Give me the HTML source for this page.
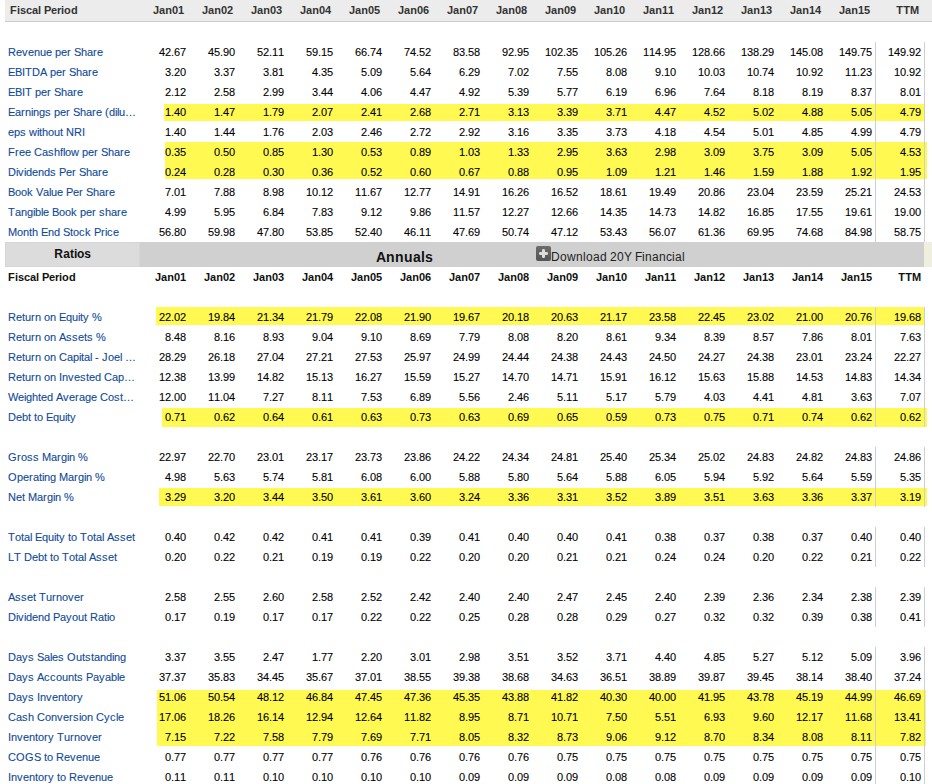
<!DOCTYPE html>
<html><head><meta charset="utf-8"><title>Financials</title>
<style>
html,body{margin:0;padding:0;background:#fff;}
body{width:932px;height:784px;position:relative;overflow:hidden;font-family:"Liberation Sans",sans-serif;font-size:11px;color:#000;}
.t{position:absolute;white-space:nowrap;line-height:20px;height:20px;}
.n{position:absolute;white-space:nowrap;line-height:20px;height:20px;text-align:right;width:60px;-webkit-text-stroke:0.1px #000;}
.b.n{-webkit-text-stroke:0;}
.l{color:#0f4a98;-webkit-text-stroke:0.1px #0f4a98;}
.b{font-weight:bold;color:#333;}
.r{position:absolute;}
i{display:inline-block;font-style:normal;overflow:visible;}
</style></head><body>

<div class="r" style="left:5px;top:0;width:927px;height:21px;background:#ececec"></div>
<div class="r" style="left:5px;top:21px;width:927px;height:1px;background:#cbcbcb"></div>
<div class="t b" style="left:10px;top:0"><i style="width:7px">F</i><i style="width:3px">i</i><i style="width:6px">s</i><i style="width:6px">c</i><i style="width:6px">a</i><i style="width:3px">l</i><i style="width:3px">&nbsp;</i><i style="width:7px">P</i><i style="width:6px">e</i><i style="width:4px">r</i><i style="width:3px">i</i><i style="width:7px">o</i><i style="width:7px">d</i></div>
<div class="n b" style="left:124px;top:0"><i style="width:6px">J</i><i style="width:6px">a</i><i style="width:7px">n</i><i style="width:6px">0</i><i style="width:6px">1</i></div>
<div class="n b" style="left:173px;top:0"><i style="width:6px">J</i><i style="width:6px">a</i><i style="width:7px">n</i><i style="width:6px">0</i><i style="width:6px">2</i></div>
<div class="n b" style="left:222px;top:0"><i style="width:6px">J</i><i style="width:6px">a</i><i style="width:7px">n</i><i style="width:6px">0</i><i style="width:6px">3</i></div>
<div class="n b" style="left:271px;top:0"><i style="width:6px">J</i><i style="width:6px">a</i><i style="width:7px">n</i><i style="width:6px">0</i><i style="width:6px">4</i></div>
<div class="n b" style="left:320px;top:0"><i style="width:6px">J</i><i style="width:6px">a</i><i style="width:7px">n</i><i style="width:6px">0</i><i style="width:6px">5</i></div>
<div class="n b" style="left:369px;top:0"><i style="width:6px">J</i><i style="width:6px">a</i><i style="width:7px">n</i><i style="width:6px">0</i><i style="width:6px">6</i></div>
<div class="n b" style="left:418px;top:0"><i style="width:6px">J</i><i style="width:6px">a</i><i style="width:7px">n</i><i style="width:6px">0</i><i style="width:6px">7</i></div>
<div class="n b" style="left:467px;top:0"><i style="width:6px">J</i><i style="width:6px">a</i><i style="width:7px">n</i><i style="width:6px">0</i><i style="width:6px">8</i></div>
<div class="n b" style="left:516px;top:0"><i style="width:6px">J</i><i style="width:6px">a</i><i style="width:7px">n</i><i style="width:6px">0</i><i style="width:6px">9</i></div>
<div class="n b" style="left:565px;top:0"><i style="width:6px">J</i><i style="width:6px">a</i><i style="width:7px">n</i><i style="width:6px">1</i><i style="width:6px">0</i></div>
<div class="n b" style="left:614px;top:0"><i style="width:6px">J</i><i style="width:6px">a</i><i style="width:7px">n</i><i style="width:6px">1</i><i style="width:6px">1</i></div>
<div class="n b" style="left:663px;top:0"><i style="width:6px">J</i><i style="width:6px">a</i><i style="width:7px">n</i><i style="width:6px">1</i><i style="width:6px">2</i></div>
<div class="n b" style="left:712px;top:0"><i style="width:6px">J</i><i style="width:6px">a</i><i style="width:7px">n</i><i style="width:6px">1</i><i style="width:6px">3</i></div>
<div class="n b" style="left:761px;top:0"><i style="width:6px">J</i><i style="width:6px">a</i><i style="width:7px">n</i><i style="width:6px">1</i><i style="width:6px">4</i></div>
<div class="n b" style="left:810px;top:0"><i style="width:6px">J</i><i style="width:6px">a</i><i style="width:7px">n</i><i style="width:6px">1</i><i style="width:6px">5</i></div>
<div class="n b" style="left:859px;top:0"><i style="width:7px">T</i><i style="width:7px">T</i><i style="width:9px">M</i></div>
<div class="r" style="left:164px;top:104px;width:760px;height:17px;background:#fff952"></div>
<div class="r" style="left:165px;top:142px;width:762px;height:37px;background:#fff952"></div>
<div class="r" style="left:156px;top:307px;width:769px;height:18px;background:#fff952"></div>
<div class="r" style="left:162px;top:408px;width:765px;height:19px;background:#fff952"></div>
<div class="r" style="left:159px;top:488px;width:768px;height:18px;background:#fff952"></div>
<div class="r" style="left:157px;top:690px;width:769px;height:56px;background:#fff952"></div>
<div class="r" style="left:875px;top:42px;width:1px;height:200px;background:#cfcfcf"></div>
<div class="r" style="left:924px;top:42px;width:1px;height:200px;background:#cfcfcf"></div>
<div class="r" style="left:875px;top:307px;width:1px;height:120px;background:#cfcfcf"></div>
<div class="r" style="left:924px;top:307px;width:1px;height:120px;background:#cfcfcf"></div>
<div class="r" style="left:875px;top:447px;width:1px;height:60px;background:#cfcfcf"></div>
<div class="r" style="left:924px;top:447px;width:1px;height:60px;background:#cfcfcf"></div>
<div class="r" style="left:875px;top:527px;width:1px;height:40px;background:#cfcfcf"></div>
<div class="r" style="left:924px;top:527px;width:1px;height:40px;background:#cfcfcf"></div>
<div class="r" style="left:875px;top:587px;width:1px;height:40px;background:#cfcfcf"></div>
<div class="r" style="left:924px;top:587px;width:1px;height:40px;background:#cfcfcf"></div>
<div class="r" style="left:875px;top:647px;width:1px;height:137px;background:#cfcfcf"></div>
<div class="r" style="left:924px;top:647px;width:1px;height:137px;background:#cfcfcf"></div>
<div class="t l" style="left:8px;top:42px"><i style="width:8px">R</i><i style="width:6px">e</i><i style="width:6px">v</i><i style="width:6px">e</i><i style="width:6px">n</i><i style="width:6px">u</i><i style="width:6px">e</i><i style="width:3px">&nbsp;</i><i style="width:6px">p</i><i style="width:6px">e</i><i style="width:4px">r</i><i style="width:3px">&nbsp;</i><i style="width:7px">S</i><i style="width:6px">h</i><i style="width:6px">a</i><i style="width:4px">r</i><i style="width:6px">e</i></div>
<div class="n" style="left:126px;top:42px"><i style="width:6px">4</i><i style="width:6px">2</i><i style="width:3px">.</i><i style="width:6px">6</i><i style="width:6px">7</i></div>
<div class="n" style="left:175px;top:42px"><i style="width:6px">4</i><i style="width:6px">5</i><i style="width:3px">.</i><i style="width:6px">9</i><i style="width:6px">0</i></div>
<div class="n" style="left:224px;top:42px"><i style="width:6px">5</i><i style="width:6px">2</i><i style="width:3px">.</i><i style="width:6px">1</i><i style="width:6px">1</i></div>
<div class="n" style="left:273px;top:42px"><i style="width:6px">5</i><i style="width:6px">9</i><i style="width:3px">.</i><i style="width:6px">1</i><i style="width:6px">5</i></div>
<div class="n" style="left:322px;top:42px"><i style="width:6px">6</i><i style="width:6px">6</i><i style="width:3px">.</i><i style="width:6px">7</i><i style="width:6px">4</i></div>
<div class="n" style="left:371px;top:42px"><i style="width:6px">7</i><i style="width:6px">4</i><i style="width:3px">.</i><i style="width:6px">5</i><i style="width:6px">2</i></div>
<div class="n" style="left:420px;top:42px"><i style="width:6px">8</i><i style="width:6px">3</i><i style="width:3px">.</i><i style="width:6px">5</i><i style="width:6px">8</i></div>
<div class="n" style="left:469px;top:42px"><i style="width:6px">9</i><i style="width:6px">2</i><i style="width:3px">.</i><i style="width:6px">9</i><i style="width:6px">5</i></div>
<div class="n" style="left:518px;top:42px"><i style="width:6px">1</i><i style="width:6px">0</i><i style="width:6px">2</i><i style="width:3px">.</i><i style="width:6px">3</i><i style="width:6px">5</i></div>
<div class="n" style="left:567px;top:42px"><i style="width:6px">1</i><i style="width:6px">0</i><i style="width:6px">5</i><i style="width:3px">.</i><i style="width:6px">2</i><i style="width:6px">6</i></div>
<div class="n" style="left:616px;top:42px"><i style="width:6px">1</i><i style="width:6px">1</i><i style="width:6px">4</i><i style="width:3px">.</i><i style="width:6px">9</i><i style="width:6px">5</i></div>
<div class="n" style="left:665px;top:42px"><i style="width:6px">1</i><i style="width:6px">2</i><i style="width:6px">8</i><i style="width:3px">.</i><i style="width:6px">6</i><i style="width:6px">6</i></div>
<div class="n" style="left:714px;top:42px"><i style="width:6px">1</i><i style="width:6px">3</i><i style="width:6px">8</i><i style="width:3px">.</i><i style="width:6px">2</i><i style="width:6px">9</i></div>
<div class="n" style="left:763px;top:42px"><i style="width:6px">1</i><i style="width:6px">4</i><i style="width:6px">5</i><i style="width:3px">.</i><i style="width:6px">0</i><i style="width:6px">8</i></div>
<div class="n" style="left:812px;top:42px"><i style="width:6px">1</i><i style="width:6px">4</i><i style="width:6px">9</i><i style="width:3px">.</i><i style="width:6px">7</i><i style="width:6px">5</i></div>
<div class="n" style="left:861px;top:42px"><i style="width:6px">1</i><i style="width:6px">4</i><i style="width:6px">9</i><i style="width:3px">.</i><i style="width:6px">9</i><i style="width:6px">2</i></div>
<div class="t l" style="left:8px;top:62px"><i style="width:7px">E</i><i style="width:7px">B</i><i style="width:3px">I</i><i style="width:7px">T</i><i style="width:8px">D</i><i style="width:7px">A</i><i style="width:3px">&nbsp;</i><i style="width:6px">p</i><i style="width:6px">e</i><i style="width:4px">r</i><i style="width:3px">&nbsp;</i><i style="width:7px">S</i><i style="width:6px">h</i><i style="width:6px">a</i><i style="width:4px">r</i><i style="width:6px">e</i></div>
<div class="n" style="left:126px;top:62px"><i style="width:6px">3</i><i style="width:3px">.</i><i style="width:6px">2</i><i style="width:6px">0</i></div>
<div class="n" style="left:175px;top:62px"><i style="width:6px">3</i><i style="width:3px">.</i><i style="width:6px">3</i><i style="width:6px">7</i></div>
<div class="n" style="left:224px;top:62px"><i style="width:6px">3</i><i style="width:3px">.</i><i style="width:6px">8</i><i style="width:6px">1</i></div>
<div class="n" style="left:273px;top:62px"><i style="width:6px">4</i><i style="width:3px">.</i><i style="width:6px">3</i><i style="width:6px">5</i></div>
<div class="n" style="left:322px;top:62px"><i style="width:6px">5</i><i style="width:3px">.</i><i style="width:6px">0</i><i style="width:6px">9</i></div>
<div class="n" style="left:371px;top:62px"><i style="width:6px">5</i><i style="width:3px">.</i><i style="width:6px">6</i><i style="width:6px">4</i></div>
<div class="n" style="left:420px;top:62px"><i style="width:6px">6</i><i style="width:3px">.</i><i style="width:6px">2</i><i style="width:6px">9</i></div>
<div class="n" style="left:469px;top:62px"><i style="width:6px">7</i><i style="width:3px">.</i><i style="width:6px">0</i><i style="width:6px">2</i></div>
<div class="n" style="left:518px;top:62px"><i style="width:6px">7</i><i style="width:3px">.</i><i style="width:6px">5</i><i style="width:6px">5</i></div>
<div class="n" style="left:567px;top:62px"><i style="width:6px">8</i><i style="width:3px">.</i><i style="width:6px">0</i><i style="width:6px">8</i></div>
<div class="n" style="left:616px;top:62px"><i style="width:6px">9</i><i style="width:3px">.</i><i style="width:6px">1</i><i style="width:6px">0</i></div>
<div class="n" style="left:665px;top:62px"><i style="width:6px">1</i><i style="width:6px">0</i><i style="width:3px">.</i><i style="width:6px">0</i><i style="width:6px">3</i></div>
<div class="n" style="left:714px;top:62px"><i style="width:6px">1</i><i style="width:6px">0</i><i style="width:3px">.</i><i style="width:6px">7</i><i style="width:6px">4</i></div>
<div class="n" style="left:763px;top:62px"><i style="width:6px">1</i><i style="width:6px">0</i><i style="width:3px">.</i><i style="width:6px">9</i><i style="width:6px">2</i></div>
<div class="n" style="left:812px;top:62px"><i style="width:6px">1</i><i style="width:6px">1</i><i style="width:3px">.</i><i style="width:6px">2</i><i style="width:6px">3</i></div>
<div class="n" style="left:861px;top:62px"><i style="width:6px">1</i><i style="width:6px">0</i><i style="width:3px">.</i><i style="width:6px">9</i><i style="width:6px">2</i></div>
<div class="t l" style="left:8px;top:82px"><i style="width:7px">E</i><i style="width:7px">B</i><i style="width:3px">I</i><i style="width:7px">T</i><i style="width:3px">&nbsp;</i><i style="width:6px">p</i><i style="width:6px">e</i><i style="width:4px">r</i><i style="width:3px">&nbsp;</i><i style="width:7px">S</i><i style="width:6px">h</i><i style="width:6px">a</i><i style="width:4px">r</i><i style="width:6px">e</i></div>
<div class="n" style="left:126px;top:82px"><i style="width:6px">2</i><i style="width:3px">.</i><i style="width:6px">1</i><i style="width:6px">2</i></div>
<div class="n" style="left:175px;top:82px"><i style="width:6px">2</i><i style="width:3px">.</i><i style="width:6px">5</i><i style="width:6px">8</i></div>
<div class="n" style="left:224px;top:82px"><i style="width:6px">2</i><i style="width:3px">.</i><i style="width:6px">9</i><i style="width:6px">9</i></div>
<div class="n" style="left:273px;top:82px"><i style="width:6px">3</i><i style="width:3px">.</i><i style="width:6px">4</i><i style="width:6px">4</i></div>
<div class="n" style="left:322px;top:82px"><i style="width:6px">4</i><i style="width:3px">.</i><i style="width:6px">0</i><i style="width:6px">6</i></div>
<div class="n" style="left:371px;top:82px"><i style="width:6px">4</i><i style="width:3px">.</i><i style="width:6px">4</i><i style="width:6px">7</i></div>
<div class="n" style="left:420px;top:82px"><i style="width:6px">4</i><i style="width:3px">.</i><i style="width:6px">9</i><i style="width:6px">2</i></div>
<div class="n" style="left:469px;top:82px"><i style="width:6px">5</i><i style="width:3px">.</i><i style="width:6px">3</i><i style="width:6px">9</i></div>
<div class="n" style="left:518px;top:82px"><i style="width:6px">5</i><i style="width:3px">.</i><i style="width:6px">7</i><i style="width:6px">7</i></div>
<div class="n" style="left:567px;top:82px"><i style="width:6px">6</i><i style="width:3px">.</i><i style="width:6px">1</i><i style="width:6px">9</i></div>
<div class="n" style="left:616px;top:82px"><i style="width:6px">6</i><i style="width:3px">.</i><i style="width:6px">9</i><i style="width:6px">6</i></div>
<div class="n" style="left:665px;top:82px"><i style="width:6px">7</i><i style="width:3px">.</i><i style="width:6px">6</i><i style="width:6px">4</i></div>
<div class="n" style="left:714px;top:82px"><i style="width:6px">8</i><i style="width:3px">.</i><i style="width:6px">1</i><i style="width:6px">8</i></div>
<div class="n" style="left:763px;top:82px"><i style="width:6px">8</i><i style="width:3px">.</i><i style="width:6px">1</i><i style="width:6px">9</i></div>
<div class="n" style="left:812px;top:82px"><i style="width:6px">8</i><i style="width:3px">.</i><i style="width:6px">3</i><i style="width:6px">7</i></div>
<div class="n" style="left:861px;top:82px"><i style="width:6px">8</i><i style="width:3px">.</i><i style="width:6px">0</i><i style="width:6px">1</i></div>
<div class="t l" style="left:8px;top:102px"><i style="width:7px">E</i><i style="width:6px">a</i><i style="width:4px">r</i><i style="width:6px">n</i><i style="width:2px">i</i><i style="width:6px">n</i><i style="width:6px">g</i><i style="width:6px">s</i><i style="width:3px">&nbsp;</i><i style="width:6px">p</i><i style="width:6px">e</i><i style="width:4px">r</i><i style="width:3px">&nbsp;</i><i style="width:7px">S</i><i style="width:6px">h</i><i style="width:6px">a</i><i style="width:4px">r</i><i style="width:6px">e</i><i style="width:3px">&nbsp;</i><i style="width:4px">(</i><i style="width:6px">d</i><i style="width:2px">i</i><i style="width:2px">l</i><i style="width:6px">u</i><i style="width:11px">…</i></div>
<div class="n" style="left:126px;top:102px"><i style="width:6px">1</i><i style="width:3px">.</i><i style="width:6px">4</i><i style="width:6px">0</i></div>
<div class="n" style="left:175px;top:102px"><i style="width:6px">1</i><i style="width:3px">.</i><i style="width:6px">4</i><i style="width:6px">7</i></div>
<div class="n" style="left:224px;top:102px"><i style="width:6px">1</i><i style="width:3px">.</i><i style="width:6px">7</i><i style="width:6px">9</i></div>
<div class="n" style="left:273px;top:102px"><i style="width:6px">2</i><i style="width:3px">.</i><i style="width:6px">0</i><i style="width:6px">7</i></div>
<div class="n" style="left:322px;top:102px"><i style="width:6px">2</i><i style="width:3px">.</i><i style="width:6px">4</i><i style="width:6px">1</i></div>
<div class="n" style="left:371px;top:102px"><i style="width:6px">2</i><i style="width:3px">.</i><i style="width:6px">6</i><i style="width:6px">8</i></div>
<div class="n" style="left:420px;top:102px"><i style="width:6px">2</i><i style="width:3px">.</i><i style="width:6px">7</i><i style="width:6px">1</i></div>
<div class="n" style="left:469px;top:102px"><i style="width:6px">3</i><i style="width:3px">.</i><i style="width:6px">1</i><i style="width:6px">3</i></div>
<div class="n" style="left:518px;top:102px"><i style="width:6px">3</i><i style="width:3px">.</i><i style="width:6px">3</i><i style="width:6px">9</i></div>
<div class="n" style="left:567px;top:102px"><i style="width:6px">3</i><i style="width:3px">.</i><i style="width:6px">7</i><i style="width:6px">1</i></div>
<div class="n" style="left:616px;top:102px"><i style="width:6px">4</i><i style="width:3px">.</i><i style="width:6px">4</i><i style="width:6px">7</i></div>
<div class="n" style="left:665px;top:102px"><i style="width:6px">4</i><i style="width:3px">.</i><i style="width:6px">5</i><i style="width:6px">2</i></div>
<div class="n" style="left:714px;top:102px"><i style="width:6px">5</i><i style="width:3px">.</i><i style="width:6px">0</i><i style="width:6px">2</i></div>
<div class="n" style="left:763px;top:102px"><i style="width:6px">4</i><i style="width:3px">.</i><i style="width:6px">8</i><i style="width:6px">8</i></div>
<div class="n" style="left:812px;top:102px"><i style="width:6px">5</i><i style="width:3px">.</i><i style="width:6px">0</i><i style="width:6px">5</i></div>
<div class="n" style="left:861px;top:102px"><i style="width:6px">4</i><i style="width:3px">.</i><i style="width:6px">7</i><i style="width:6px">9</i></div>
<div class="t l" style="left:8px;top:122px"><i style="width:6px">e</i><i style="width:6px">p</i><i style="width:6px">s</i><i style="width:3px">&nbsp;</i><i style="width:8px">w</i><i style="width:2px">i</i><i style="width:3px">t</i><i style="width:6px">h</i><i style="width:6px">o</i><i style="width:6px">u</i><i style="width:3px">t</i><i style="width:3px">&nbsp;</i><i style="width:8px">N</i><i style="width:8px">R</i><i style="width:3px">I</i></div>
<div class="n" style="left:126px;top:122px"><i style="width:6px">1</i><i style="width:3px">.</i><i style="width:6px">4</i><i style="width:6px">0</i></div>
<div class="n" style="left:175px;top:122px"><i style="width:6px">1</i><i style="width:3px">.</i><i style="width:6px">4</i><i style="width:6px">4</i></div>
<div class="n" style="left:224px;top:122px"><i style="width:6px">1</i><i style="width:3px">.</i><i style="width:6px">7</i><i style="width:6px">6</i></div>
<div class="n" style="left:273px;top:122px"><i style="width:6px">2</i><i style="width:3px">.</i><i style="width:6px">0</i><i style="width:6px">3</i></div>
<div class="n" style="left:322px;top:122px"><i style="width:6px">2</i><i style="width:3px">.</i><i style="width:6px">4</i><i style="width:6px">6</i></div>
<div class="n" style="left:371px;top:122px"><i style="width:6px">2</i><i style="width:3px">.</i><i style="width:6px">7</i><i style="width:6px">2</i></div>
<div class="n" style="left:420px;top:122px"><i style="width:6px">2</i><i style="width:3px">.</i><i style="width:6px">9</i><i style="width:6px">2</i></div>
<div class="n" style="left:469px;top:122px"><i style="width:6px">3</i><i style="width:3px">.</i><i style="width:6px">1</i><i style="width:6px">6</i></div>
<div class="n" style="left:518px;top:122px"><i style="width:6px">3</i><i style="width:3px">.</i><i style="width:6px">3</i><i style="width:6px">5</i></div>
<div class="n" style="left:567px;top:122px"><i style="width:6px">3</i><i style="width:3px">.</i><i style="width:6px">7</i><i style="width:6px">3</i></div>
<div class="n" style="left:616px;top:122px"><i style="width:6px">4</i><i style="width:3px">.</i><i style="width:6px">1</i><i style="width:6px">8</i></div>
<div class="n" style="left:665px;top:122px"><i style="width:6px">4</i><i style="width:3px">.</i><i style="width:6px">5</i><i style="width:6px">4</i></div>
<div class="n" style="left:714px;top:122px"><i style="width:6px">5</i><i style="width:3px">.</i><i style="width:6px">0</i><i style="width:6px">1</i></div>
<div class="n" style="left:763px;top:122px"><i style="width:6px">4</i><i style="width:3px">.</i><i style="width:6px">8</i><i style="width:6px">5</i></div>
<div class="n" style="left:812px;top:122px"><i style="width:6px">4</i><i style="width:3px">.</i><i style="width:6px">9</i><i style="width:6px">9</i></div>
<div class="n" style="left:861px;top:122px"><i style="width:6px">4</i><i style="width:3px">.</i><i style="width:6px">7</i><i style="width:6px">9</i></div>
<div class="t l" style="left:8px;top:142px"><i style="width:7px">F</i><i style="width:4px">r</i><i style="width:6px">e</i><i style="width:6px">e</i><i style="width:3px">&nbsp;</i><i style="width:8px">C</i><i style="width:6px">a</i><i style="width:6px">s</i><i style="width:6px">h</i><i style="width:3px">f</i><i style="width:2px">l</i><i style="width:6px">o</i><i style="width:8px">w</i><i style="width:3px">&nbsp;</i><i style="width:6px">p</i><i style="width:6px">e</i><i style="width:4px">r</i><i style="width:3px">&nbsp;</i><i style="width:7px">S</i><i style="width:6px">h</i><i style="width:6px">a</i><i style="width:4px">r</i><i style="width:6px">e</i></div>
<div class="n" style="left:126px;top:142px"><i style="width:6px">0</i><i style="width:3px">.</i><i style="width:6px">3</i><i style="width:6px">5</i></div>
<div class="n" style="left:175px;top:142px"><i style="width:6px">0</i><i style="width:3px">.</i><i style="width:6px">5</i><i style="width:6px">0</i></div>
<div class="n" style="left:224px;top:142px"><i style="width:6px">0</i><i style="width:3px">.</i><i style="width:6px">8</i><i style="width:6px">5</i></div>
<div class="n" style="left:273px;top:142px"><i style="width:6px">1</i><i style="width:3px">.</i><i style="width:6px">3</i><i style="width:6px">0</i></div>
<div class="n" style="left:322px;top:142px"><i style="width:6px">0</i><i style="width:3px">.</i><i style="width:6px">5</i><i style="width:6px">3</i></div>
<div class="n" style="left:371px;top:142px"><i style="width:6px">0</i><i style="width:3px">.</i><i style="width:6px">8</i><i style="width:6px">9</i></div>
<div class="n" style="left:420px;top:142px"><i style="width:6px">1</i><i style="width:3px">.</i><i style="width:6px">0</i><i style="width:6px">3</i></div>
<div class="n" style="left:469px;top:142px"><i style="width:6px">1</i><i style="width:3px">.</i><i style="width:6px">3</i><i style="width:6px">3</i></div>
<div class="n" style="left:518px;top:142px"><i style="width:6px">2</i><i style="width:3px">.</i><i style="width:6px">9</i><i style="width:6px">5</i></div>
<div class="n" style="left:567px;top:142px"><i style="width:6px">3</i><i style="width:3px">.</i><i style="width:6px">6</i><i style="width:6px">3</i></div>
<div class="n" style="left:616px;top:142px"><i style="width:6px">2</i><i style="width:3px">.</i><i style="width:6px">9</i><i style="width:6px">8</i></div>
<div class="n" style="left:665px;top:142px"><i style="width:6px">3</i><i style="width:3px">.</i><i style="width:6px">0</i><i style="width:6px">9</i></div>
<div class="n" style="left:714px;top:142px"><i style="width:6px">3</i><i style="width:3px">.</i><i style="width:6px">7</i><i style="width:6px">5</i></div>
<div class="n" style="left:763px;top:142px"><i style="width:6px">3</i><i style="width:3px">.</i><i style="width:6px">0</i><i style="width:6px">9</i></div>
<div class="n" style="left:812px;top:142px"><i style="width:6px">5</i><i style="width:3px">.</i><i style="width:6px">0</i><i style="width:6px">5</i></div>
<div class="n" style="left:861px;top:142px"><i style="width:6px">4</i><i style="width:3px">.</i><i style="width:6px">5</i><i style="width:6px">3</i></div>
<div class="t l" style="left:8px;top:162px"><i style="width:8px">D</i><i style="width:2px">i</i><i style="width:6px">v</i><i style="width:2px">i</i><i style="width:6px">d</i><i style="width:6px">e</i><i style="width:6px">n</i><i style="width:6px">d</i><i style="width:6px">s</i><i style="width:3px">&nbsp;</i><i style="width:7px">P</i><i style="width:6px">e</i><i style="width:4px">r</i><i style="width:3px">&nbsp;</i><i style="width:7px">S</i><i style="width:6px">h</i><i style="width:6px">a</i><i style="width:4px">r</i><i style="width:6px">e</i></div>
<div class="n" style="left:126px;top:162px"><i style="width:6px">0</i><i style="width:3px">.</i><i style="width:6px">2</i><i style="width:6px">4</i></div>
<div class="n" style="left:175px;top:162px"><i style="width:6px">0</i><i style="width:3px">.</i><i style="width:6px">2</i><i style="width:6px">8</i></div>
<div class="n" style="left:224px;top:162px"><i style="width:6px">0</i><i style="width:3px">.</i><i style="width:6px">3</i><i style="width:6px">0</i></div>
<div class="n" style="left:273px;top:162px"><i style="width:6px">0</i><i style="width:3px">.</i><i style="width:6px">3</i><i style="width:6px">6</i></div>
<div class="n" style="left:322px;top:162px"><i style="width:6px">0</i><i style="width:3px">.</i><i style="width:6px">5</i><i style="width:6px">2</i></div>
<div class="n" style="left:371px;top:162px"><i style="width:6px">0</i><i style="width:3px">.</i><i style="width:6px">6</i><i style="width:6px">0</i></div>
<div class="n" style="left:420px;top:162px"><i style="width:6px">0</i><i style="width:3px">.</i><i style="width:6px">6</i><i style="width:6px">7</i></div>
<div class="n" style="left:469px;top:162px"><i style="width:6px">0</i><i style="width:3px">.</i><i style="width:6px">8</i><i style="width:6px">8</i></div>
<div class="n" style="left:518px;top:162px"><i style="width:6px">0</i><i style="width:3px">.</i><i style="width:6px">9</i><i style="width:6px">5</i></div>
<div class="n" style="left:567px;top:162px"><i style="width:6px">1</i><i style="width:3px">.</i><i style="width:6px">0</i><i style="width:6px">9</i></div>
<div class="n" style="left:616px;top:162px"><i style="width:6px">1</i><i style="width:3px">.</i><i style="width:6px">2</i><i style="width:6px">1</i></div>
<div class="n" style="left:665px;top:162px"><i style="width:6px">1</i><i style="width:3px">.</i><i style="width:6px">4</i><i style="width:6px">6</i></div>
<div class="n" style="left:714px;top:162px"><i style="width:6px">1</i><i style="width:3px">.</i><i style="width:6px">5</i><i style="width:6px">9</i></div>
<div class="n" style="left:763px;top:162px"><i style="width:6px">1</i><i style="width:3px">.</i><i style="width:6px">8</i><i style="width:6px">8</i></div>
<div class="n" style="left:812px;top:162px"><i style="width:6px">1</i><i style="width:3px">.</i><i style="width:6px">9</i><i style="width:6px">2</i></div>
<div class="n" style="left:861px;top:162px"><i style="width:6px">1</i><i style="width:3px">.</i><i style="width:6px">9</i><i style="width:6px">5</i></div>
<div class="t l" style="left:8px;top:182px"><i style="width:7px">B</i><i style="width:6px">o</i><i style="width:6px">o</i><i style="width:6px">k</i><i style="width:3px">&nbsp;</i><i style="width:7px">V</i><i style="width:6px">a</i><i style="width:2px">l</i><i style="width:6px">u</i><i style="width:6px">e</i><i style="width:3px">&nbsp;</i><i style="width:7px">P</i><i style="width:6px">e</i><i style="width:4px">r</i><i style="width:3px">&nbsp;</i><i style="width:7px">S</i><i style="width:6px">h</i><i style="width:6px">a</i><i style="width:4px">r</i><i style="width:6px">e</i></div>
<div class="n" style="left:126px;top:182px"><i style="width:6px">7</i><i style="width:3px">.</i><i style="width:6px">0</i><i style="width:6px">1</i></div>
<div class="n" style="left:175px;top:182px"><i style="width:6px">7</i><i style="width:3px">.</i><i style="width:6px">8</i><i style="width:6px">8</i></div>
<div class="n" style="left:224px;top:182px"><i style="width:6px">8</i><i style="width:3px">.</i><i style="width:6px">9</i><i style="width:6px">8</i></div>
<div class="n" style="left:273px;top:182px"><i style="width:6px">1</i><i style="width:6px">0</i><i style="width:3px">.</i><i style="width:6px">1</i><i style="width:6px">2</i></div>
<div class="n" style="left:322px;top:182px"><i style="width:6px">1</i><i style="width:6px">1</i><i style="width:3px">.</i><i style="width:6px">6</i><i style="width:6px">7</i></div>
<div class="n" style="left:371px;top:182px"><i style="width:6px">1</i><i style="width:6px">2</i><i style="width:3px">.</i><i style="width:6px">7</i><i style="width:6px">7</i></div>
<div class="n" style="left:420px;top:182px"><i style="width:6px">1</i><i style="width:6px">4</i><i style="width:3px">.</i><i style="width:6px">9</i><i style="width:6px">1</i></div>
<div class="n" style="left:469px;top:182px"><i style="width:6px">1</i><i style="width:6px">6</i><i style="width:3px">.</i><i style="width:6px">2</i><i style="width:6px">6</i></div>
<div class="n" style="left:518px;top:182px"><i style="width:6px">1</i><i style="width:6px">6</i><i style="width:3px">.</i><i style="width:6px">5</i><i style="width:6px">2</i></div>
<div class="n" style="left:567px;top:182px"><i style="width:6px">1</i><i style="width:6px">8</i><i style="width:3px">.</i><i style="width:6px">6</i><i style="width:6px">1</i></div>
<div class="n" style="left:616px;top:182px"><i style="width:6px">1</i><i style="width:6px">9</i><i style="width:3px">.</i><i style="width:6px">4</i><i style="width:6px">9</i></div>
<div class="n" style="left:665px;top:182px"><i style="width:6px">2</i><i style="width:6px">0</i><i style="width:3px">.</i><i style="width:6px">8</i><i style="width:6px">6</i></div>
<div class="n" style="left:714px;top:182px"><i style="width:6px">2</i><i style="width:6px">3</i><i style="width:3px">.</i><i style="width:6px">0</i><i style="width:6px">4</i></div>
<div class="n" style="left:763px;top:182px"><i style="width:6px">2</i><i style="width:6px">3</i><i style="width:3px">.</i><i style="width:6px">5</i><i style="width:6px">9</i></div>
<div class="n" style="left:812px;top:182px"><i style="width:6px">2</i><i style="width:6px">5</i><i style="width:3px">.</i><i style="width:6px">2</i><i style="width:6px">1</i></div>
<div class="n" style="left:861px;top:182px"><i style="width:6px">2</i><i style="width:6px">4</i><i style="width:3px">.</i><i style="width:6px">5</i><i style="width:6px">3</i></div>
<div class="t l" style="left:8px;top:202px"><i style="width:7px">T</i><i style="width:6px">a</i><i style="width:6px">n</i><i style="width:6px">g</i><i style="width:2px">i</i><i style="width:6px">b</i><i style="width:2px">l</i><i style="width:6px">e</i><i style="width:3px">&nbsp;</i><i style="width:7px">B</i><i style="width:6px">o</i><i style="width:6px">o</i><i style="width:6px">k</i><i style="width:3px">&nbsp;</i><i style="width:6px">p</i><i style="width:6px">e</i><i style="width:4px">r</i><i style="width:3px">&nbsp;</i><i style="width:6px">s</i><i style="width:6px">h</i><i style="width:6px">a</i><i style="width:4px">r</i><i style="width:6px">e</i></div>
<div class="n" style="left:126px;top:202px"><i style="width:6px">4</i><i style="width:3px">.</i><i style="width:6px">9</i><i style="width:6px">9</i></div>
<div class="n" style="left:175px;top:202px"><i style="width:6px">5</i><i style="width:3px">.</i><i style="width:6px">9</i><i style="width:6px">5</i></div>
<div class="n" style="left:224px;top:202px"><i style="width:6px">6</i><i style="width:3px">.</i><i style="width:6px">8</i><i style="width:6px">4</i></div>
<div class="n" style="left:273px;top:202px"><i style="width:6px">7</i><i style="width:3px">.</i><i style="width:6px">8</i><i style="width:6px">3</i></div>
<div class="n" style="left:322px;top:202px"><i style="width:6px">9</i><i style="width:3px">.</i><i style="width:6px">1</i><i style="width:6px">2</i></div>
<div class="n" style="left:371px;top:202px"><i style="width:6px">9</i><i style="width:3px">.</i><i style="width:6px">8</i><i style="width:6px">6</i></div>
<div class="n" style="left:420px;top:202px"><i style="width:6px">1</i><i style="width:6px">1</i><i style="width:3px">.</i><i style="width:6px">5</i><i style="width:6px">7</i></div>
<div class="n" style="left:469px;top:202px"><i style="width:6px">1</i><i style="width:6px">2</i><i style="width:3px">.</i><i style="width:6px">2</i><i style="width:6px">7</i></div>
<div class="n" style="left:518px;top:202px"><i style="width:6px">1</i><i style="width:6px">2</i><i style="width:3px">.</i><i style="width:6px">6</i><i style="width:6px">6</i></div>
<div class="n" style="left:567px;top:202px"><i style="width:6px">1</i><i style="width:6px">4</i><i style="width:3px">.</i><i style="width:6px">3</i><i style="width:6px">5</i></div>
<div class="n" style="left:616px;top:202px"><i style="width:6px">1</i><i style="width:6px">4</i><i style="width:3px">.</i><i style="width:6px">7</i><i style="width:6px">3</i></div>
<div class="n" style="left:665px;top:202px"><i style="width:6px">1</i><i style="width:6px">4</i><i style="width:3px">.</i><i style="width:6px">8</i><i style="width:6px">2</i></div>
<div class="n" style="left:714px;top:202px"><i style="width:6px">1</i><i style="width:6px">6</i><i style="width:3px">.</i><i style="width:6px">8</i><i style="width:6px">5</i></div>
<div class="n" style="left:763px;top:202px"><i style="width:6px">1</i><i style="width:6px">7</i><i style="width:3px">.</i><i style="width:6px">5</i><i style="width:6px">5</i></div>
<div class="n" style="left:812px;top:202px"><i style="width:6px">1</i><i style="width:6px">9</i><i style="width:3px">.</i><i style="width:6px">6</i><i style="width:6px">1</i></div>
<div class="n" style="left:861px;top:202px"><i style="width:6px">1</i><i style="width:6px">9</i><i style="width:3px">.</i><i style="width:6px">0</i><i style="width:6px">0</i></div>
<div class="t l" style="left:8px;top:222px"><i style="width:9px">M</i><i style="width:6px">o</i><i style="width:6px">n</i><i style="width:3px">t</i><i style="width:6px">h</i><i style="width:3px">&nbsp;</i><i style="width:7px">E</i><i style="width:6px">n</i><i style="width:6px">d</i><i style="width:3px">&nbsp;</i><i style="width:7px">S</i><i style="width:3px">t</i><i style="width:6px">o</i><i style="width:6px">c</i><i style="width:6px">k</i><i style="width:3px">&nbsp;</i><i style="width:7px">P</i><i style="width:4px">r</i><i style="width:2px">i</i><i style="width:6px">c</i><i style="width:6px">e</i></div>
<div class="n" style="left:126px;top:222px"><i style="width:6px">5</i><i style="width:6px">6</i><i style="width:3px">.</i><i style="width:6px">8</i><i style="width:6px">0</i></div>
<div class="n" style="left:175px;top:222px"><i style="width:6px">5</i><i style="width:6px">9</i><i style="width:3px">.</i><i style="width:6px">9</i><i style="width:6px">8</i></div>
<div class="n" style="left:224px;top:222px"><i style="width:6px">4</i><i style="width:6px">7</i><i style="width:3px">.</i><i style="width:6px">8</i><i style="width:6px">0</i></div>
<div class="n" style="left:273px;top:222px"><i style="width:6px">5</i><i style="width:6px">3</i><i style="width:3px">.</i><i style="width:6px">8</i><i style="width:6px">5</i></div>
<div class="n" style="left:322px;top:222px"><i style="width:6px">5</i><i style="width:6px">2</i><i style="width:3px">.</i><i style="width:6px">4</i><i style="width:6px">0</i></div>
<div class="n" style="left:371px;top:222px"><i style="width:6px">4</i><i style="width:6px">6</i><i style="width:3px">.</i><i style="width:6px">1</i><i style="width:6px">1</i></div>
<div class="n" style="left:420px;top:222px"><i style="width:6px">4</i><i style="width:6px">7</i><i style="width:3px">.</i><i style="width:6px">6</i><i style="width:6px">9</i></div>
<div class="n" style="left:469px;top:222px"><i style="width:6px">5</i><i style="width:6px">0</i><i style="width:3px">.</i><i style="width:6px">7</i><i style="width:6px">4</i></div>
<div class="n" style="left:518px;top:222px"><i style="width:6px">4</i><i style="width:6px">7</i><i style="width:3px">.</i><i style="width:6px">1</i><i style="width:6px">2</i></div>
<div class="n" style="left:567px;top:222px"><i style="width:6px">5</i><i style="width:6px">3</i><i style="width:3px">.</i><i style="width:6px">4</i><i style="width:6px">3</i></div>
<div class="n" style="left:616px;top:222px"><i style="width:6px">5</i><i style="width:6px">6</i><i style="width:3px">.</i><i style="width:6px">0</i><i style="width:6px">7</i></div>
<div class="n" style="left:665px;top:222px"><i style="width:6px">6</i><i style="width:6px">1</i><i style="width:3px">.</i><i style="width:6px">3</i><i style="width:6px">6</i></div>
<div class="n" style="left:714px;top:222px"><i style="width:6px">6</i><i style="width:6px">9</i><i style="width:3px">.</i><i style="width:6px">9</i><i style="width:6px">5</i></div>
<div class="n" style="left:763px;top:222px"><i style="width:6px">7</i><i style="width:6px">4</i><i style="width:3px">.</i><i style="width:6px">6</i><i style="width:6px">8</i></div>
<div class="n" style="left:812px;top:222px"><i style="width:6px">8</i><i style="width:6px">4</i><i style="width:3px">.</i><i style="width:6px">9</i><i style="width:6px">8</i></div>
<div class="n" style="left:861px;top:222px"><i style="width:6px">5</i><i style="width:6px">8</i><i style="width:3px">.</i><i style="width:6px">7</i><i style="width:6px">5</i></div>
<div class="r" style="left:5px;top:242px;width:135px;height:25px;background:#dcdcdc;box-shadow:inset 0 0 0 1px #d6d6d6"></div>
<div class="r" style="left:140px;top:242px;width:784px;height:25px;background:#d0d0d0"></div>
<div class="r" style="left:924px;top:242px;width:8px;height:25px;background:#eeefdf"></div>
<div class="t b" style="left:5px;width:135px;text-align:center;top:244px;font-size:12px;color:#111;line-height:20px"><i style="width:9px">R</i><i style="width:7px">a</i><i style="width:4px">t</i><i style="width:3px">i</i><i style="width:7px">o</i><i style="width:7px">s</i></div>
<div class="t b" style="left:376px;top:247px;font-size:14px;color:#111;line-height:20px"><i style="width:10px">A</i><i style="width:9px">n</i><i style="width:9px">n</i><i style="width:9px">u</i><i style="width:8px">a</i><i style="width:4px">l</i><i style="width:8px">s</i></div>
<svg class="r" style="left:536px;top:246px" width="15" height="15" viewBox="0 0 15 15"><defs><linearGradient id="g" x1="0" y1="0" x2="0" y2="1"><stop offset="0" stop-color="#6c6c6c"/><stop offset="1" stop-color="#555"/></linearGradient></defs><rect x="0" y="0" width="15" height="15" rx="2" fill="url(#g)"/><rect x="3" y="6" width="9" height="3" rx="1.2" fill="#dcdcdc"/><rect x="6" y="3" width="3" height="9" rx="1.2" fill="#dcdcdc"/></svg>
<div class="t" style="left:551px;top:247px;font-size:12px;line-height:20px;color:#222"><i style="width:9px">D</i><i style="width:7px">o</i><i style="width:9px">w</i><i style="width:7px">n</i><i style="width:3px">l</i><i style="width:7px">o</i><i style="width:7px">a</i><i style="width:7px">d</i><i style="width:3px">&nbsp;</i><i style="width:7px">2</i><i style="width:7px">0</i><i style="width:8px">Y</i><i style="width:3px">&nbsp;</i><i style="width:7px">F</i><i style="width:3px">i</i><i style="width:7px">n</i><i style="width:7px">a</i><i style="width:7px">n</i><i style="width:6px">c</i><i style="width:3px">i</i><i style="width:7px">a</i><i style="width:3px">l</i></div>
<div class="t b" style="left:8px;top:267px;color:#111"><i style="width:7px">F</i><i style="width:3px">i</i><i style="width:6px">s</i><i style="width:6px">c</i><i style="width:6px">a</i><i style="width:3px">l</i><i style="width:3px">&nbsp;</i><i style="width:7px">P</i><i style="width:6px">e</i><i style="width:4px">r</i><i style="width:3px">i</i><i style="width:7px">o</i><i style="width:7px">d</i></div>
<div class="n b" style="left:126px;top:267px;color:#111"><i style="width:6px">J</i><i style="width:6px">a</i><i style="width:7px">n</i><i style="width:6px">0</i><i style="width:6px">1</i></div>
<div class="n b" style="left:175px;top:267px;color:#111"><i style="width:6px">J</i><i style="width:6px">a</i><i style="width:7px">n</i><i style="width:6px">0</i><i style="width:6px">2</i></div>
<div class="n b" style="left:224px;top:267px;color:#111"><i style="width:6px">J</i><i style="width:6px">a</i><i style="width:7px">n</i><i style="width:6px">0</i><i style="width:6px">3</i></div>
<div class="n b" style="left:273px;top:267px;color:#111"><i style="width:6px">J</i><i style="width:6px">a</i><i style="width:7px">n</i><i style="width:6px">0</i><i style="width:6px">4</i></div>
<div class="n b" style="left:322px;top:267px;color:#111"><i style="width:6px">J</i><i style="width:6px">a</i><i style="width:7px">n</i><i style="width:6px">0</i><i style="width:6px">5</i></div>
<div class="n b" style="left:371px;top:267px;color:#111"><i style="width:6px">J</i><i style="width:6px">a</i><i style="width:7px">n</i><i style="width:6px">0</i><i style="width:6px">6</i></div>
<div class="n b" style="left:420px;top:267px;color:#111"><i style="width:6px">J</i><i style="width:6px">a</i><i style="width:7px">n</i><i style="width:6px">0</i><i style="width:6px">7</i></div>
<div class="n b" style="left:469px;top:267px;color:#111"><i style="width:6px">J</i><i style="width:6px">a</i><i style="width:7px">n</i><i style="width:6px">0</i><i style="width:6px">8</i></div>
<div class="n b" style="left:518px;top:267px;color:#111"><i style="width:6px">J</i><i style="width:6px">a</i><i style="width:7px">n</i><i style="width:6px">0</i><i style="width:6px">9</i></div>
<div class="n b" style="left:567px;top:267px;color:#111"><i style="width:6px">J</i><i style="width:6px">a</i><i style="width:7px">n</i><i style="width:6px">1</i><i style="width:6px">0</i></div>
<div class="n b" style="left:616px;top:267px;color:#111"><i style="width:6px">J</i><i style="width:6px">a</i><i style="width:7px">n</i><i style="width:6px">1</i><i style="width:6px">1</i></div>
<div class="n b" style="left:665px;top:267px;color:#111"><i style="width:6px">J</i><i style="width:6px">a</i><i style="width:7px">n</i><i style="width:6px">1</i><i style="width:6px">2</i></div>
<div class="n b" style="left:714px;top:267px;color:#111"><i style="width:6px">J</i><i style="width:6px">a</i><i style="width:7px">n</i><i style="width:6px">1</i><i style="width:6px">3</i></div>
<div class="n b" style="left:763px;top:267px;color:#111"><i style="width:6px">J</i><i style="width:6px">a</i><i style="width:7px">n</i><i style="width:6px">1</i><i style="width:6px">4</i></div>
<div class="n b" style="left:812px;top:267px;color:#111"><i style="width:6px">J</i><i style="width:6px">a</i><i style="width:7px">n</i><i style="width:6px">1</i><i style="width:6px">5</i></div>
<div class="n b" style="left:861px;top:267px;color:#111"><i style="width:7px">T</i><i style="width:7px">T</i><i style="width:9px">M</i></div>
<div class="t l" style="left:8px;top:307px"><i style="width:8px">R</i><i style="width:6px">e</i><i style="width:3px">t</i><i style="width:6px">u</i><i style="width:4px">r</i><i style="width:6px">n</i><i style="width:3px">&nbsp;</i><i style="width:6px">o</i><i style="width:6px">n</i><i style="width:3px">&nbsp;</i><i style="width:7px">E</i><i style="width:6px">q</i><i style="width:6px">u</i><i style="width:2px">i</i><i style="width:3px">t</i><i style="width:6px">y</i><i style="width:3px">&nbsp;</i><i style="width:10px">%</i></div>
<div class="n" style="left:126px;top:307px"><i style="width:6px">2</i><i style="width:6px">2</i><i style="width:3px">.</i><i style="width:6px">0</i><i style="width:6px">2</i></div>
<div class="n" style="left:175px;top:307px"><i style="width:6px">1</i><i style="width:6px">9</i><i style="width:3px">.</i><i style="width:6px">8</i><i style="width:6px">4</i></div>
<div class="n" style="left:224px;top:307px"><i style="width:6px">2</i><i style="width:6px">1</i><i style="width:3px">.</i><i style="width:6px">3</i><i style="width:6px">4</i></div>
<div class="n" style="left:273px;top:307px"><i style="width:6px">2</i><i style="width:6px">1</i><i style="width:3px">.</i><i style="width:6px">7</i><i style="width:6px">9</i></div>
<div class="n" style="left:322px;top:307px"><i style="width:6px">2</i><i style="width:6px">2</i><i style="width:3px">.</i><i style="width:6px">0</i><i style="width:6px">8</i></div>
<div class="n" style="left:371px;top:307px"><i style="width:6px">2</i><i style="width:6px">1</i><i style="width:3px">.</i><i style="width:6px">9</i><i style="width:6px">0</i></div>
<div class="n" style="left:420px;top:307px"><i style="width:6px">1</i><i style="width:6px">9</i><i style="width:3px">.</i><i style="width:6px">6</i><i style="width:6px">7</i></div>
<div class="n" style="left:469px;top:307px"><i style="width:6px">2</i><i style="width:6px">0</i><i style="width:3px">.</i><i style="width:6px">1</i><i style="width:6px">8</i></div>
<div class="n" style="left:518px;top:307px"><i style="width:6px">2</i><i style="width:6px">0</i><i style="width:3px">.</i><i style="width:6px">6</i><i style="width:6px">3</i></div>
<div class="n" style="left:567px;top:307px"><i style="width:6px">2</i><i style="width:6px">1</i><i style="width:3px">.</i><i style="width:6px">1</i><i style="width:6px">7</i></div>
<div class="n" style="left:616px;top:307px"><i style="width:6px">2</i><i style="width:6px">3</i><i style="width:3px">.</i><i style="width:6px">5</i><i style="width:6px">8</i></div>
<div class="n" style="left:665px;top:307px"><i style="width:6px">2</i><i style="width:6px">2</i><i style="width:3px">.</i><i style="width:6px">4</i><i style="width:6px">5</i></div>
<div class="n" style="left:714px;top:307px"><i style="width:6px">2</i><i style="width:6px">3</i><i style="width:3px">.</i><i style="width:6px">0</i><i style="width:6px">2</i></div>
<div class="n" style="left:763px;top:307px"><i style="width:6px">2</i><i style="width:6px">1</i><i style="width:3px">.</i><i style="width:6px">0</i><i style="width:6px">0</i></div>
<div class="n" style="left:812px;top:307px"><i style="width:6px">2</i><i style="width:6px">0</i><i style="width:3px">.</i><i style="width:6px">7</i><i style="width:6px">6</i></div>
<div class="n" style="left:861px;top:307px"><i style="width:6px">1</i><i style="width:6px">9</i><i style="width:3px">.</i><i style="width:6px">6</i><i style="width:6px">8</i></div>
<div class="t l" style="left:8px;top:327px"><i style="width:8px">R</i><i style="width:6px">e</i><i style="width:3px">t</i><i style="width:6px">u</i><i style="width:4px">r</i><i style="width:6px">n</i><i style="width:3px">&nbsp;</i><i style="width:6px">o</i><i style="width:6px">n</i><i style="width:3px">&nbsp;</i><i style="width:7px">A</i><i style="width:6px">s</i><i style="width:6px">s</i><i style="width:6px">e</i><i style="width:3px">t</i><i style="width:6px">s</i><i style="width:3px">&nbsp;</i><i style="width:10px">%</i></div>
<div class="n" style="left:126px;top:327px"><i style="width:6px">8</i><i style="width:3px">.</i><i style="width:6px">4</i><i style="width:6px">8</i></div>
<div class="n" style="left:175px;top:327px"><i style="width:6px">8</i><i style="width:3px">.</i><i style="width:6px">1</i><i style="width:6px">6</i></div>
<div class="n" style="left:224px;top:327px"><i style="width:6px">8</i><i style="width:3px">.</i><i style="width:6px">9</i><i style="width:6px">3</i></div>
<div class="n" style="left:273px;top:327px"><i style="width:6px">9</i><i style="width:3px">.</i><i style="width:6px">0</i><i style="width:6px">4</i></div>
<div class="n" style="left:322px;top:327px"><i style="width:6px">9</i><i style="width:3px">.</i><i style="width:6px">1</i><i style="width:6px">0</i></div>
<div class="n" style="left:371px;top:327px"><i style="width:6px">8</i><i style="width:3px">.</i><i style="width:6px">6</i><i style="width:6px">9</i></div>
<div class="n" style="left:420px;top:327px"><i style="width:6px">7</i><i style="width:3px">.</i><i style="width:6px">7</i><i style="width:6px">9</i></div>
<div class="n" style="left:469px;top:327px"><i style="width:6px">8</i><i style="width:3px">.</i><i style="width:6px">0</i><i style="width:6px">8</i></div>
<div class="n" style="left:518px;top:327px"><i style="width:6px">8</i><i style="width:3px">.</i><i style="width:6px">2</i><i style="width:6px">0</i></div>
<div class="n" style="left:567px;top:327px"><i style="width:6px">8</i><i style="width:3px">.</i><i style="width:6px">6</i><i style="width:6px">1</i></div>
<div class="n" style="left:616px;top:327px"><i style="width:6px">9</i><i style="width:3px">.</i><i style="width:6px">3</i><i style="width:6px">4</i></div>
<div class="n" style="left:665px;top:327px"><i style="width:6px">8</i><i style="width:3px">.</i><i style="width:6px">3</i><i style="width:6px">9</i></div>
<div class="n" style="left:714px;top:327px"><i style="width:6px">8</i><i style="width:3px">.</i><i style="width:6px">5</i><i style="width:6px">7</i></div>
<div class="n" style="left:763px;top:327px"><i style="width:6px">7</i><i style="width:3px">.</i><i style="width:6px">8</i><i style="width:6px">6</i></div>
<div class="n" style="left:812px;top:327px"><i style="width:6px">8</i><i style="width:3px">.</i><i style="width:6px">0</i><i style="width:6px">1</i></div>
<div class="n" style="left:861px;top:327px"><i style="width:6px">7</i><i style="width:3px">.</i><i style="width:6px">6</i><i style="width:6px">3</i></div>
<div class="t l" style="left:8px;top:347px"><i style="width:8px">R</i><i style="width:6px">e</i><i style="width:3px">t</i><i style="width:6px">u</i><i style="width:4px">r</i><i style="width:6px">n</i><i style="width:3px">&nbsp;</i><i style="width:6px">o</i><i style="width:6px">n</i><i style="width:3px">&nbsp;</i><i style="width:8px">C</i><i style="width:6px">a</i><i style="width:6px">p</i><i style="width:2px">i</i><i style="width:3px">t</i><i style="width:6px">a</i><i style="width:2px">l</i><i style="width:3px">&nbsp;</i><i style="width:4px">-</i><i style="width:3px">&nbsp;</i><i style="width:6px">J</i><i style="width:6px">o</i><i style="width:6px">e</i><i style="width:2px">l</i><i style="width:3px">&nbsp;</i><i style="width:11px">…</i></div>
<div class="n" style="left:126px;top:347px"><i style="width:6px">2</i><i style="width:6px">8</i><i style="width:3px">.</i><i style="width:6px">2</i><i style="width:6px">9</i></div>
<div class="n" style="left:175px;top:347px"><i style="width:6px">2</i><i style="width:6px">6</i><i style="width:3px">.</i><i style="width:6px">1</i><i style="width:6px">8</i></div>
<div class="n" style="left:224px;top:347px"><i style="width:6px">2</i><i style="width:6px">7</i><i style="width:3px">.</i><i style="width:6px">0</i><i style="width:6px">4</i></div>
<div class="n" style="left:273px;top:347px"><i style="width:6px">2</i><i style="width:6px">7</i><i style="width:3px">.</i><i style="width:6px">2</i><i style="width:6px">1</i></div>
<div class="n" style="left:322px;top:347px"><i style="width:6px">2</i><i style="width:6px">7</i><i style="width:3px">.</i><i style="width:6px">5</i><i style="width:6px">3</i></div>
<div class="n" style="left:371px;top:347px"><i style="width:6px">2</i><i style="width:6px">5</i><i style="width:3px">.</i><i style="width:6px">9</i><i style="width:6px">7</i></div>
<div class="n" style="left:420px;top:347px"><i style="width:6px">2</i><i style="width:6px">4</i><i style="width:3px">.</i><i style="width:6px">9</i><i style="width:6px">9</i></div>
<div class="n" style="left:469px;top:347px"><i style="width:6px">2</i><i style="width:6px">4</i><i style="width:3px">.</i><i style="width:6px">4</i><i style="width:6px">4</i></div>
<div class="n" style="left:518px;top:347px"><i style="width:6px">2</i><i style="width:6px">4</i><i style="width:3px">.</i><i style="width:6px">3</i><i style="width:6px">8</i></div>
<div class="n" style="left:567px;top:347px"><i style="width:6px">2</i><i style="width:6px">4</i><i style="width:3px">.</i><i style="width:6px">4</i><i style="width:6px">3</i></div>
<div class="n" style="left:616px;top:347px"><i style="width:6px">2</i><i style="width:6px">4</i><i style="width:3px">.</i><i style="width:6px">5</i><i style="width:6px">0</i></div>
<div class="n" style="left:665px;top:347px"><i style="width:6px">2</i><i style="width:6px">4</i><i style="width:3px">.</i><i style="width:6px">2</i><i style="width:6px">7</i></div>
<div class="n" style="left:714px;top:347px"><i style="width:6px">2</i><i style="width:6px">4</i><i style="width:3px">.</i><i style="width:6px">3</i><i style="width:6px">8</i></div>
<div class="n" style="left:763px;top:347px"><i style="width:6px">2</i><i style="width:6px">3</i><i style="width:3px">.</i><i style="width:6px">0</i><i style="width:6px">1</i></div>
<div class="n" style="left:812px;top:347px"><i style="width:6px">2</i><i style="width:6px">3</i><i style="width:3px">.</i><i style="width:6px">2</i><i style="width:6px">4</i></div>
<div class="n" style="left:861px;top:347px"><i style="width:6px">2</i><i style="width:6px">2</i><i style="width:3px">.</i><i style="width:6px">2</i><i style="width:6px">7</i></div>
<div class="t l" style="left:8px;top:367px"><i style="width:8px">R</i><i style="width:6px">e</i><i style="width:3px">t</i><i style="width:6px">u</i><i style="width:4px">r</i><i style="width:6px">n</i><i style="width:3px">&nbsp;</i><i style="width:6px">o</i><i style="width:6px">n</i><i style="width:3px">&nbsp;</i><i style="width:3px">I</i><i style="width:6px">n</i><i style="width:6px">v</i><i style="width:6px">e</i><i style="width:6px">s</i><i style="width:3px">t</i><i style="width:6px">e</i><i style="width:6px">d</i><i style="width:3px">&nbsp;</i><i style="width:8px">C</i><i style="width:6px">a</i><i style="width:6px">p</i><i style="width:11px">…</i></div>
<div class="n" style="left:126px;top:367px"><i style="width:6px">1</i><i style="width:6px">2</i><i style="width:3px">.</i><i style="width:6px">3</i><i style="width:6px">8</i></div>
<div class="n" style="left:175px;top:367px"><i style="width:6px">1</i><i style="width:6px">3</i><i style="width:3px">.</i><i style="width:6px">9</i><i style="width:6px">9</i></div>
<div class="n" style="left:224px;top:367px"><i style="width:6px">1</i><i style="width:6px">4</i><i style="width:3px">.</i><i style="width:6px">8</i><i style="width:6px">2</i></div>
<div class="n" style="left:273px;top:367px"><i style="width:6px">1</i><i style="width:6px">5</i><i style="width:3px">.</i><i style="width:6px">1</i><i style="width:6px">3</i></div>
<div class="n" style="left:322px;top:367px"><i style="width:6px">1</i><i style="width:6px">6</i><i style="width:3px">.</i><i style="width:6px">2</i><i style="width:6px">7</i></div>
<div class="n" style="left:371px;top:367px"><i style="width:6px">1</i><i style="width:6px">5</i><i style="width:3px">.</i><i style="width:6px">5</i><i style="width:6px">9</i></div>
<div class="n" style="left:420px;top:367px"><i style="width:6px">1</i><i style="width:6px">5</i><i style="width:3px">.</i><i style="width:6px">2</i><i style="width:6px">7</i></div>
<div class="n" style="left:469px;top:367px"><i style="width:6px">1</i><i style="width:6px">4</i><i style="width:3px">.</i><i style="width:6px">7</i><i style="width:6px">0</i></div>
<div class="n" style="left:518px;top:367px"><i style="width:6px">1</i><i style="width:6px">4</i><i style="width:3px">.</i><i style="width:6px">7</i><i style="width:6px">1</i></div>
<div class="n" style="left:567px;top:367px"><i style="width:6px">1</i><i style="width:6px">5</i><i style="width:3px">.</i><i style="width:6px">9</i><i style="width:6px">1</i></div>
<div class="n" style="left:616px;top:367px"><i style="width:6px">1</i><i style="width:6px">6</i><i style="width:3px">.</i><i style="width:6px">1</i><i style="width:6px">2</i></div>
<div class="n" style="left:665px;top:367px"><i style="width:6px">1</i><i style="width:6px">5</i><i style="width:3px">.</i><i style="width:6px">6</i><i style="width:6px">3</i></div>
<div class="n" style="left:714px;top:367px"><i style="width:6px">1</i><i style="width:6px">5</i><i style="width:3px">.</i><i style="width:6px">8</i><i style="width:6px">8</i></div>
<div class="n" style="left:763px;top:367px"><i style="width:6px">1</i><i style="width:6px">4</i><i style="width:3px">.</i><i style="width:6px">5</i><i style="width:6px">3</i></div>
<div class="n" style="left:812px;top:367px"><i style="width:6px">1</i><i style="width:6px">4</i><i style="width:3px">.</i><i style="width:6px">8</i><i style="width:6px">3</i></div>
<div class="n" style="left:861px;top:367px"><i style="width:6px">1</i><i style="width:6px">4</i><i style="width:3px">.</i><i style="width:6px">3</i><i style="width:6px">4</i></div>
<div class="t l" style="left:8px;top:387px"><i style="width:10px">W</i><i style="width:6px">e</i><i style="width:2px">i</i><i style="width:6px">g</i><i style="width:6px">h</i><i style="width:3px">t</i><i style="width:6px">e</i><i style="width:6px">d</i><i style="width:3px">&nbsp;</i><i style="width:7px">A</i><i style="width:6px">v</i><i style="width:6px">e</i><i style="width:4px">r</i><i style="width:6px">a</i><i style="width:6px">g</i><i style="width:6px">e</i><i style="width:3px">&nbsp;</i><i style="width:8px">C</i><i style="width:6px">o</i><i style="width:6px">s</i><i style="width:3px">t</i><i style="width:11px">…</i></div>
<div class="n" style="left:126px;top:387px"><i style="width:6px">1</i><i style="width:6px">2</i><i style="width:3px">.</i><i style="width:6px">0</i><i style="width:6px">0</i></div>
<div class="n" style="left:175px;top:387px"><i style="width:6px">1</i><i style="width:6px">1</i><i style="width:3px">.</i><i style="width:6px">0</i><i style="width:6px">4</i></div>
<div class="n" style="left:224px;top:387px"><i style="width:6px">7</i><i style="width:3px">.</i><i style="width:6px">2</i><i style="width:6px">7</i></div>
<div class="n" style="left:273px;top:387px"><i style="width:6px">8</i><i style="width:3px">.</i><i style="width:6px">1</i><i style="width:6px">1</i></div>
<div class="n" style="left:322px;top:387px"><i style="width:6px">7</i><i style="width:3px">.</i><i style="width:6px">5</i><i style="width:6px">3</i></div>
<div class="n" style="left:371px;top:387px"><i style="width:6px">6</i><i style="width:3px">.</i><i style="width:6px">8</i><i style="width:6px">9</i></div>
<div class="n" style="left:420px;top:387px"><i style="width:6px">5</i><i style="width:3px">.</i><i style="width:6px">5</i><i style="width:6px">6</i></div>
<div class="n" style="left:469px;top:387px"><i style="width:6px">2</i><i style="width:3px">.</i><i style="width:6px">4</i><i style="width:6px">6</i></div>
<div class="n" style="left:518px;top:387px"><i style="width:6px">5</i><i style="width:3px">.</i><i style="width:6px">1</i><i style="width:6px">1</i></div>
<div class="n" style="left:567px;top:387px"><i style="width:6px">5</i><i style="width:3px">.</i><i style="width:6px">1</i><i style="width:6px">7</i></div>
<div class="n" style="left:616px;top:387px"><i style="width:6px">5</i><i style="width:3px">.</i><i style="width:6px">7</i><i style="width:6px">9</i></div>
<div class="n" style="left:665px;top:387px"><i style="width:6px">4</i><i style="width:3px">.</i><i style="width:6px">0</i><i style="width:6px">3</i></div>
<div class="n" style="left:714px;top:387px"><i style="width:6px">4</i><i style="width:3px">.</i><i style="width:6px">4</i><i style="width:6px">1</i></div>
<div class="n" style="left:763px;top:387px"><i style="width:6px">4</i><i style="width:3px">.</i><i style="width:6px">8</i><i style="width:6px">1</i></div>
<div class="n" style="left:812px;top:387px"><i style="width:6px">3</i><i style="width:3px">.</i><i style="width:6px">6</i><i style="width:6px">3</i></div>
<div class="n" style="left:861px;top:387px"><i style="width:6px">7</i><i style="width:3px">.</i><i style="width:6px">0</i><i style="width:6px">7</i></div>
<div class="t l" style="left:8px;top:407px"><i style="width:8px">D</i><i style="width:6px">e</i><i style="width:6px">b</i><i style="width:3px">t</i><i style="width:3px">&nbsp;</i><i style="width:3px">t</i><i style="width:6px">o</i><i style="width:3px">&nbsp;</i><i style="width:7px">E</i><i style="width:6px">q</i><i style="width:6px">u</i><i style="width:2px">i</i><i style="width:3px">t</i><i style="width:6px">y</i></div>
<div class="n" style="left:126px;top:407px"><i style="width:6px">0</i><i style="width:3px">.</i><i style="width:6px">7</i><i style="width:6px">1</i></div>
<div class="n" style="left:175px;top:407px"><i style="width:6px">0</i><i style="width:3px">.</i><i style="width:6px">6</i><i style="width:6px">2</i></div>
<div class="n" style="left:224px;top:407px"><i style="width:6px">0</i><i style="width:3px">.</i><i style="width:6px">6</i><i style="width:6px">4</i></div>
<div class="n" style="left:273px;top:407px"><i style="width:6px">0</i><i style="width:3px">.</i><i style="width:6px">6</i><i style="width:6px">1</i></div>
<div class="n" style="left:322px;top:407px"><i style="width:6px">0</i><i style="width:3px">.</i><i style="width:6px">6</i><i style="width:6px">3</i></div>
<div class="n" style="left:371px;top:407px"><i style="width:6px">0</i><i style="width:3px">.</i><i style="width:6px">7</i><i style="width:6px">3</i></div>
<div class="n" style="left:420px;top:407px"><i style="width:6px">0</i><i style="width:3px">.</i><i style="width:6px">6</i><i style="width:6px">3</i></div>
<div class="n" style="left:469px;top:407px"><i style="width:6px">0</i><i style="width:3px">.</i><i style="width:6px">6</i><i style="width:6px">9</i></div>
<div class="n" style="left:518px;top:407px"><i style="width:6px">0</i><i style="width:3px">.</i><i style="width:6px">6</i><i style="width:6px">5</i></div>
<div class="n" style="left:567px;top:407px"><i style="width:6px">0</i><i style="width:3px">.</i><i style="width:6px">5</i><i style="width:6px">9</i></div>
<div class="n" style="left:616px;top:407px"><i style="width:6px">0</i><i style="width:3px">.</i><i style="width:6px">7</i><i style="width:6px">3</i></div>
<div class="n" style="left:665px;top:407px"><i style="width:6px">0</i><i style="width:3px">.</i><i style="width:6px">7</i><i style="width:6px">5</i></div>
<div class="n" style="left:714px;top:407px"><i style="width:6px">0</i><i style="width:3px">.</i><i style="width:6px">7</i><i style="width:6px">1</i></div>
<div class="n" style="left:763px;top:407px"><i style="width:6px">0</i><i style="width:3px">.</i><i style="width:6px">7</i><i style="width:6px">4</i></div>
<div class="n" style="left:812px;top:407px"><i style="width:6px">0</i><i style="width:3px">.</i><i style="width:6px">6</i><i style="width:6px">2</i></div>
<div class="n" style="left:861px;top:407px"><i style="width:6px">0</i><i style="width:3px">.</i><i style="width:6px">6</i><i style="width:6px">2</i></div>
<div class="t l" style="left:8px;top:447px"><i style="width:9px">G</i><i style="width:4px">r</i><i style="width:6px">o</i><i style="width:6px">s</i><i style="width:6px">s</i><i style="width:3px">&nbsp;</i><i style="width:9px">M</i><i style="width:6px">a</i><i style="width:4px">r</i><i style="width:6px">g</i><i style="width:2px">i</i><i style="width:6px">n</i><i style="width:3px">&nbsp;</i><i style="width:10px">%</i></div>
<div class="n" style="left:126px;top:447px"><i style="width:6px">2</i><i style="width:6px">2</i><i style="width:3px">.</i><i style="width:6px">9</i><i style="width:6px">7</i></div>
<div class="n" style="left:175px;top:447px"><i style="width:6px">2</i><i style="width:6px">2</i><i style="width:3px">.</i><i style="width:6px">7</i><i style="width:6px">0</i></div>
<div class="n" style="left:224px;top:447px"><i style="width:6px">2</i><i style="width:6px">3</i><i style="width:3px">.</i><i style="width:6px">0</i><i style="width:6px">1</i></div>
<div class="n" style="left:273px;top:447px"><i style="width:6px">2</i><i style="width:6px">3</i><i style="width:3px">.</i><i style="width:6px">1</i><i style="width:6px">7</i></div>
<div class="n" style="left:322px;top:447px"><i style="width:6px">2</i><i style="width:6px">3</i><i style="width:3px">.</i><i style="width:6px">7</i><i style="width:6px">3</i></div>
<div class="n" style="left:371px;top:447px"><i style="width:6px">2</i><i style="width:6px">3</i><i style="width:3px">.</i><i style="width:6px">8</i><i style="width:6px">6</i></div>
<div class="n" style="left:420px;top:447px"><i style="width:6px">2</i><i style="width:6px">4</i><i style="width:3px">.</i><i style="width:6px">2</i><i style="width:6px">2</i></div>
<div class="n" style="left:469px;top:447px"><i style="width:6px">2</i><i style="width:6px">4</i><i style="width:3px">.</i><i style="width:6px">3</i><i style="width:6px">4</i></div>
<div class="n" style="left:518px;top:447px"><i style="width:6px">2</i><i style="width:6px">4</i><i style="width:3px">.</i><i style="width:6px">8</i><i style="width:6px">1</i></div>
<div class="n" style="left:567px;top:447px"><i style="width:6px">2</i><i style="width:6px">5</i><i style="width:3px">.</i><i style="width:6px">4</i><i style="width:6px">0</i></div>
<div class="n" style="left:616px;top:447px"><i style="width:6px">2</i><i style="width:6px">5</i><i style="width:3px">.</i><i style="width:6px">3</i><i style="width:6px">4</i></div>
<div class="n" style="left:665px;top:447px"><i style="width:6px">2</i><i style="width:6px">5</i><i style="width:3px">.</i><i style="width:6px">0</i><i style="width:6px">2</i></div>
<div class="n" style="left:714px;top:447px"><i style="width:6px">2</i><i style="width:6px">4</i><i style="width:3px">.</i><i style="width:6px">8</i><i style="width:6px">3</i></div>
<div class="n" style="left:763px;top:447px"><i style="width:6px">2</i><i style="width:6px">4</i><i style="width:3px">.</i><i style="width:6px">8</i><i style="width:6px">2</i></div>
<div class="n" style="left:812px;top:447px"><i style="width:6px">2</i><i style="width:6px">4</i><i style="width:3px">.</i><i style="width:6px">8</i><i style="width:6px">3</i></div>
<div class="n" style="left:861px;top:447px"><i style="width:6px">2</i><i style="width:6px">4</i><i style="width:3px">.</i><i style="width:6px">8</i><i style="width:6px">6</i></div>
<div class="t l" style="left:8px;top:467px"><i style="width:9px">O</i><i style="width:6px">p</i><i style="width:6px">e</i><i style="width:4px">r</i><i style="width:6px">a</i><i style="width:3px">t</i><i style="width:2px">i</i><i style="width:6px">n</i><i style="width:6px">g</i><i style="width:3px">&nbsp;</i><i style="width:9px">M</i><i style="width:6px">a</i><i style="width:4px">r</i><i style="width:6px">g</i><i style="width:2px">i</i><i style="width:6px">n</i><i style="width:3px">&nbsp;</i><i style="width:10px">%</i></div>
<div class="n" style="left:126px;top:467px"><i style="width:6px">4</i><i style="width:3px">.</i><i style="width:6px">9</i><i style="width:6px">8</i></div>
<div class="n" style="left:175px;top:467px"><i style="width:6px">5</i><i style="width:3px">.</i><i style="width:6px">6</i><i style="width:6px">3</i></div>
<div class="n" style="left:224px;top:467px"><i style="width:6px">5</i><i style="width:3px">.</i><i style="width:6px">7</i><i style="width:6px">4</i></div>
<div class="n" style="left:273px;top:467px"><i style="width:6px">5</i><i style="width:3px">.</i><i style="width:6px">8</i><i style="width:6px">1</i></div>
<div class="n" style="left:322px;top:467px"><i style="width:6px">6</i><i style="width:3px">.</i><i style="width:6px">0</i><i style="width:6px">8</i></div>
<div class="n" style="left:371px;top:467px"><i style="width:6px">6</i><i style="width:3px">.</i><i style="width:6px">0</i><i style="width:6px">0</i></div>
<div class="n" style="left:420px;top:467px"><i style="width:6px">5</i><i style="width:3px">.</i><i style="width:6px">8</i><i style="width:6px">8</i></div>
<div class="n" style="left:469px;top:467px"><i style="width:6px">5</i><i style="width:3px">.</i><i style="width:6px">8</i><i style="width:6px">0</i></div>
<div class="n" style="left:518px;top:467px"><i style="width:6px">5</i><i style="width:3px">.</i><i style="width:6px">6</i><i style="width:6px">4</i></div>
<div class="n" style="left:567px;top:467px"><i style="width:6px">5</i><i style="width:3px">.</i><i style="width:6px">8</i><i style="width:6px">8</i></div>
<div class="n" style="left:616px;top:467px"><i style="width:6px">6</i><i style="width:3px">.</i><i style="width:6px">0</i><i style="width:6px">5</i></div>
<div class="n" style="left:665px;top:467px"><i style="width:6px">5</i><i style="width:3px">.</i><i style="width:6px">9</i><i style="width:6px">4</i></div>
<div class="n" style="left:714px;top:467px"><i style="width:6px">5</i><i style="width:3px">.</i><i style="width:6px">9</i><i style="width:6px">2</i></div>
<div class="n" style="left:763px;top:467px"><i style="width:6px">5</i><i style="width:3px">.</i><i style="width:6px">6</i><i style="width:6px">4</i></div>
<div class="n" style="left:812px;top:467px"><i style="width:6px">5</i><i style="width:3px">.</i><i style="width:6px">5</i><i style="width:6px">9</i></div>
<div class="n" style="left:861px;top:467px"><i style="width:6px">5</i><i style="width:3px">.</i><i style="width:6px">3</i><i style="width:6px">5</i></div>
<div class="t l" style="left:8px;top:487px"><i style="width:8px">N</i><i style="width:6px">e</i><i style="width:3px">t</i><i style="width:3px">&nbsp;</i><i style="width:9px">M</i><i style="width:6px">a</i><i style="width:4px">r</i><i style="width:6px">g</i><i style="width:2px">i</i><i style="width:6px">n</i><i style="width:3px">&nbsp;</i><i style="width:10px">%</i></div>
<div class="n" style="left:126px;top:487px"><i style="width:6px">3</i><i style="width:3px">.</i><i style="width:6px">2</i><i style="width:6px">9</i></div>
<div class="n" style="left:175px;top:487px"><i style="width:6px">3</i><i style="width:3px">.</i><i style="width:6px">2</i><i style="width:6px">0</i></div>
<div class="n" style="left:224px;top:487px"><i style="width:6px">3</i><i style="width:3px">.</i><i style="width:6px">4</i><i style="width:6px">4</i></div>
<div class="n" style="left:273px;top:487px"><i style="width:6px">3</i><i style="width:3px">.</i><i style="width:6px">5</i><i style="width:6px">0</i></div>
<div class="n" style="left:322px;top:487px"><i style="width:6px">3</i><i style="width:3px">.</i><i style="width:6px">6</i><i style="width:6px">1</i></div>
<div class="n" style="left:371px;top:487px"><i style="width:6px">3</i><i style="width:3px">.</i><i style="width:6px">6</i><i style="width:6px">0</i></div>
<div class="n" style="left:420px;top:487px"><i style="width:6px">3</i><i style="width:3px">.</i><i style="width:6px">2</i><i style="width:6px">4</i></div>
<div class="n" style="left:469px;top:487px"><i style="width:6px">3</i><i style="width:3px">.</i><i style="width:6px">3</i><i style="width:6px">6</i></div>
<div class="n" style="left:518px;top:487px"><i style="width:6px">3</i><i style="width:3px">.</i><i style="width:6px">3</i><i style="width:6px">1</i></div>
<div class="n" style="left:567px;top:487px"><i style="width:6px">3</i><i style="width:3px">.</i><i style="width:6px">5</i><i style="width:6px">2</i></div>
<div class="n" style="left:616px;top:487px"><i style="width:6px">3</i><i style="width:3px">.</i><i style="width:6px">8</i><i style="width:6px">9</i></div>
<div class="n" style="left:665px;top:487px"><i style="width:6px">3</i><i style="width:3px">.</i><i style="width:6px">5</i><i style="width:6px">1</i></div>
<div class="n" style="left:714px;top:487px"><i style="width:6px">3</i><i style="width:3px">.</i><i style="width:6px">6</i><i style="width:6px">3</i></div>
<div class="n" style="left:763px;top:487px"><i style="width:6px">3</i><i style="width:3px">.</i><i style="width:6px">3</i><i style="width:6px">6</i></div>
<div class="n" style="left:812px;top:487px"><i style="width:6px">3</i><i style="width:3px">.</i><i style="width:6px">3</i><i style="width:6px">7</i></div>
<div class="n" style="left:861px;top:487px"><i style="width:6px">3</i><i style="width:3px">.</i><i style="width:6px">1</i><i style="width:6px">9</i></div>
<div class="t l" style="left:8px;top:527px"><i style="width:7px">T</i><i style="width:6px">o</i><i style="width:3px">t</i><i style="width:6px">a</i><i style="width:2px">l</i><i style="width:3px">&nbsp;</i><i style="width:7px">E</i><i style="width:6px">q</i><i style="width:6px">u</i><i style="width:2px">i</i><i style="width:3px">t</i><i style="width:6px">y</i><i style="width:3px">&nbsp;</i><i style="width:3px">t</i><i style="width:6px">o</i><i style="width:3px">&nbsp;</i><i style="width:7px">T</i><i style="width:6px">o</i><i style="width:3px">t</i><i style="width:6px">a</i><i style="width:2px">l</i><i style="width:3px">&nbsp;</i><i style="width:7px">A</i><i style="width:6px">s</i><i style="width:6px">s</i><i style="width:6px">e</i><i style="width:3px">t</i></div>
<div class="n" style="left:126px;top:527px"><i style="width:6px">0</i><i style="width:3px">.</i><i style="width:6px">4</i><i style="width:6px">0</i></div>
<div class="n" style="left:175px;top:527px"><i style="width:6px">0</i><i style="width:3px">.</i><i style="width:6px">4</i><i style="width:6px">2</i></div>
<div class="n" style="left:224px;top:527px"><i style="width:6px">0</i><i style="width:3px">.</i><i style="width:6px">4</i><i style="width:6px">2</i></div>
<div class="n" style="left:273px;top:527px"><i style="width:6px">0</i><i style="width:3px">.</i><i style="width:6px">4</i><i style="width:6px">1</i></div>
<div class="n" style="left:322px;top:527px"><i style="width:6px">0</i><i style="width:3px">.</i><i style="width:6px">4</i><i style="width:6px">1</i></div>
<div class="n" style="left:371px;top:527px"><i style="width:6px">0</i><i style="width:3px">.</i><i style="width:6px">3</i><i style="width:6px">9</i></div>
<div class="n" style="left:420px;top:527px"><i style="width:6px">0</i><i style="width:3px">.</i><i style="width:6px">4</i><i style="width:6px">1</i></div>
<div class="n" style="left:469px;top:527px"><i style="width:6px">0</i><i style="width:3px">.</i><i style="width:6px">4</i><i style="width:6px">0</i></div>
<div class="n" style="left:518px;top:527px"><i style="width:6px">0</i><i style="width:3px">.</i><i style="width:6px">4</i><i style="width:6px">0</i></div>
<div class="n" style="left:567px;top:527px"><i style="width:6px">0</i><i style="width:3px">.</i><i style="width:6px">4</i><i style="width:6px">1</i></div>
<div class="n" style="left:616px;top:527px"><i style="width:6px">0</i><i style="width:3px">.</i><i style="width:6px">3</i><i style="width:6px">8</i></div>
<div class="n" style="left:665px;top:527px"><i style="width:6px">0</i><i style="width:3px">.</i><i style="width:6px">3</i><i style="width:6px">7</i></div>
<div class="n" style="left:714px;top:527px"><i style="width:6px">0</i><i style="width:3px">.</i><i style="width:6px">3</i><i style="width:6px">8</i></div>
<div class="n" style="left:763px;top:527px"><i style="width:6px">0</i><i style="width:3px">.</i><i style="width:6px">3</i><i style="width:6px">7</i></div>
<div class="n" style="left:812px;top:527px"><i style="width:6px">0</i><i style="width:3px">.</i><i style="width:6px">4</i><i style="width:6px">0</i></div>
<div class="n" style="left:861px;top:527px"><i style="width:6px">0</i><i style="width:3px">.</i><i style="width:6px">4</i><i style="width:6px">0</i></div>
<div class="t l" style="left:8px;top:547px"><i style="width:6px">L</i><i style="width:7px">T</i><i style="width:3px">&nbsp;</i><i style="width:8px">D</i><i style="width:6px">e</i><i style="width:6px">b</i><i style="width:3px">t</i><i style="width:3px">&nbsp;</i><i style="width:3px">t</i><i style="width:6px">o</i><i style="width:3px">&nbsp;</i><i style="width:7px">T</i><i style="width:6px">o</i><i style="width:3px">t</i><i style="width:6px">a</i><i style="width:2px">l</i><i style="width:3px">&nbsp;</i><i style="width:7px">A</i><i style="width:6px">s</i><i style="width:6px">s</i><i style="width:6px">e</i><i style="width:3px">t</i></div>
<div class="n" style="left:126px;top:547px"><i style="width:6px">0</i><i style="width:3px">.</i><i style="width:6px">2</i><i style="width:6px">0</i></div>
<div class="n" style="left:175px;top:547px"><i style="width:6px">0</i><i style="width:3px">.</i><i style="width:6px">2</i><i style="width:6px">2</i></div>
<div class="n" style="left:224px;top:547px"><i style="width:6px">0</i><i style="width:3px">.</i><i style="width:6px">2</i><i style="width:6px">1</i></div>
<div class="n" style="left:273px;top:547px"><i style="width:6px">0</i><i style="width:3px">.</i><i style="width:6px">1</i><i style="width:6px">9</i></div>
<div class="n" style="left:322px;top:547px"><i style="width:6px">0</i><i style="width:3px">.</i><i style="width:6px">1</i><i style="width:6px">9</i></div>
<div class="n" style="left:371px;top:547px"><i style="width:6px">0</i><i style="width:3px">.</i><i style="width:6px">2</i><i style="width:6px">2</i></div>
<div class="n" style="left:420px;top:547px"><i style="width:6px">0</i><i style="width:3px">.</i><i style="width:6px">2</i><i style="width:6px">0</i></div>
<div class="n" style="left:469px;top:547px"><i style="width:6px">0</i><i style="width:3px">.</i><i style="width:6px">2</i><i style="width:6px">0</i></div>
<div class="n" style="left:518px;top:547px"><i style="width:6px">0</i><i style="width:3px">.</i><i style="width:6px">2</i><i style="width:6px">1</i></div>
<div class="n" style="left:567px;top:547px"><i style="width:6px">0</i><i style="width:3px">.</i><i style="width:6px">2</i><i style="width:6px">1</i></div>
<div class="n" style="left:616px;top:547px"><i style="width:6px">0</i><i style="width:3px">.</i><i style="width:6px">2</i><i style="width:6px">4</i></div>
<div class="n" style="left:665px;top:547px"><i style="width:6px">0</i><i style="width:3px">.</i><i style="width:6px">2</i><i style="width:6px">4</i></div>
<div class="n" style="left:714px;top:547px"><i style="width:6px">0</i><i style="width:3px">.</i><i style="width:6px">2</i><i style="width:6px">0</i></div>
<div class="n" style="left:763px;top:547px"><i style="width:6px">0</i><i style="width:3px">.</i><i style="width:6px">2</i><i style="width:6px">2</i></div>
<div class="n" style="left:812px;top:547px"><i style="width:6px">0</i><i style="width:3px">.</i><i style="width:6px">2</i><i style="width:6px">1</i></div>
<div class="n" style="left:861px;top:547px"><i style="width:6px">0</i><i style="width:3px">.</i><i style="width:6px">2</i><i style="width:6px">2</i></div>
<div class="t l" style="left:8px;top:587px"><i style="width:7px">A</i><i style="width:6px">s</i><i style="width:6px">s</i><i style="width:6px">e</i><i style="width:3px">t</i><i style="width:3px">&nbsp;</i><i style="width:7px">T</i><i style="width:6px">u</i><i style="width:4px">r</i><i style="width:6px">n</i><i style="width:6px">o</i><i style="width:6px">v</i><i style="width:6px">e</i><i style="width:4px">r</i></div>
<div class="n" style="left:126px;top:587px"><i style="width:6px">2</i><i style="width:3px">.</i><i style="width:6px">5</i><i style="width:6px">8</i></div>
<div class="n" style="left:175px;top:587px"><i style="width:6px">2</i><i style="width:3px">.</i><i style="width:6px">5</i><i style="width:6px">5</i></div>
<div class="n" style="left:224px;top:587px"><i style="width:6px">2</i><i style="width:3px">.</i><i style="width:6px">6</i><i style="width:6px">0</i></div>
<div class="n" style="left:273px;top:587px"><i style="width:6px">2</i><i style="width:3px">.</i><i style="width:6px">5</i><i style="width:6px">8</i></div>
<div class="n" style="left:322px;top:587px"><i style="width:6px">2</i><i style="width:3px">.</i><i style="width:6px">5</i><i style="width:6px">2</i></div>
<div class="n" style="left:371px;top:587px"><i style="width:6px">2</i><i style="width:3px">.</i><i style="width:6px">4</i><i style="width:6px">2</i></div>
<div class="n" style="left:420px;top:587px"><i style="width:6px">2</i><i style="width:3px">.</i><i style="width:6px">4</i><i style="width:6px">0</i></div>
<div class="n" style="left:469px;top:587px"><i style="width:6px">2</i><i style="width:3px">.</i><i style="width:6px">4</i><i style="width:6px">0</i></div>
<div class="n" style="left:518px;top:587px"><i style="width:6px">2</i><i style="width:3px">.</i><i style="width:6px">4</i><i style="width:6px">7</i></div>
<div class="n" style="left:567px;top:587px"><i style="width:6px">2</i><i style="width:3px">.</i><i style="width:6px">4</i><i style="width:6px">5</i></div>
<div class="n" style="left:616px;top:587px"><i style="width:6px">2</i><i style="width:3px">.</i><i style="width:6px">4</i><i style="width:6px">0</i></div>
<div class="n" style="left:665px;top:587px"><i style="width:6px">2</i><i style="width:3px">.</i><i style="width:6px">3</i><i style="width:6px">9</i></div>
<div class="n" style="left:714px;top:587px"><i style="width:6px">2</i><i style="width:3px">.</i><i style="width:6px">3</i><i style="width:6px">6</i></div>
<div class="n" style="left:763px;top:587px"><i style="width:6px">2</i><i style="width:3px">.</i><i style="width:6px">3</i><i style="width:6px">4</i></div>
<div class="n" style="left:812px;top:587px"><i style="width:6px">2</i><i style="width:3px">.</i><i style="width:6px">3</i><i style="width:6px">8</i></div>
<div class="n" style="left:861px;top:587px"><i style="width:6px">2</i><i style="width:3px">.</i><i style="width:6px">3</i><i style="width:6px">9</i></div>
<div class="t l" style="left:8px;top:607px"><i style="width:8px">D</i><i style="width:2px">i</i><i style="width:6px">v</i><i style="width:2px">i</i><i style="width:6px">d</i><i style="width:6px">e</i><i style="width:6px">n</i><i style="width:6px">d</i><i style="width:3px">&nbsp;</i><i style="width:7px">P</i><i style="width:6px">a</i><i style="width:6px">y</i><i style="width:6px">o</i><i style="width:6px">u</i><i style="width:3px">t</i><i style="width:3px">&nbsp;</i><i style="width:8px">R</i><i style="width:6px">a</i><i style="width:3px">t</i><i style="width:2px">i</i><i style="width:6px">o</i></div>
<div class="n" style="left:126px;top:607px"><i style="width:6px">0</i><i style="width:3px">.</i><i style="width:6px">1</i><i style="width:6px">7</i></div>
<div class="n" style="left:175px;top:607px"><i style="width:6px">0</i><i style="width:3px">.</i><i style="width:6px">1</i><i style="width:6px">9</i></div>
<div class="n" style="left:224px;top:607px"><i style="width:6px">0</i><i style="width:3px">.</i><i style="width:6px">1</i><i style="width:6px">7</i></div>
<div class="n" style="left:273px;top:607px"><i style="width:6px">0</i><i style="width:3px">.</i><i style="width:6px">1</i><i style="width:6px">7</i></div>
<div class="n" style="left:322px;top:607px"><i style="width:6px">0</i><i style="width:3px">.</i><i style="width:6px">2</i><i style="width:6px">2</i></div>
<div class="n" style="left:371px;top:607px"><i style="width:6px">0</i><i style="width:3px">.</i><i style="width:6px">2</i><i style="width:6px">2</i></div>
<div class="n" style="left:420px;top:607px"><i style="width:6px">0</i><i style="width:3px">.</i><i style="width:6px">2</i><i style="width:6px">5</i></div>
<div class="n" style="left:469px;top:607px"><i style="width:6px">0</i><i style="width:3px">.</i><i style="width:6px">2</i><i style="width:6px">8</i></div>
<div class="n" style="left:518px;top:607px"><i style="width:6px">0</i><i style="width:3px">.</i><i style="width:6px">2</i><i style="width:6px">8</i></div>
<div class="n" style="left:567px;top:607px"><i style="width:6px">0</i><i style="width:3px">.</i><i style="width:6px">2</i><i style="width:6px">9</i></div>
<div class="n" style="left:616px;top:607px"><i style="width:6px">0</i><i style="width:3px">.</i><i style="width:6px">2</i><i style="width:6px">7</i></div>
<div class="n" style="left:665px;top:607px"><i style="width:6px">0</i><i style="width:3px">.</i><i style="width:6px">3</i><i style="width:6px">2</i></div>
<div class="n" style="left:714px;top:607px"><i style="width:6px">0</i><i style="width:3px">.</i><i style="width:6px">3</i><i style="width:6px">2</i></div>
<div class="n" style="left:763px;top:607px"><i style="width:6px">0</i><i style="width:3px">.</i><i style="width:6px">3</i><i style="width:6px">9</i></div>
<div class="n" style="left:812px;top:607px"><i style="width:6px">0</i><i style="width:3px">.</i><i style="width:6px">3</i><i style="width:6px">8</i></div>
<div class="n" style="left:861px;top:607px"><i style="width:6px">0</i><i style="width:3px">.</i><i style="width:6px">4</i><i style="width:6px">1</i></div>
<div class="t l" style="left:8px;top:647px"><i style="width:8px">D</i><i style="width:6px">a</i><i style="width:6px">y</i><i style="width:6px">s</i><i style="width:3px">&nbsp;</i><i style="width:7px">S</i><i style="width:6px">a</i><i style="width:2px">l</i><i style="width:6px">e</i><i style="width:6px">s</i><i style="width:3px">&nbsp;</i><i style="width:9px">O</i><i style="width:6px">u</i><i style="width:3px">t</i><i style="width:6px">s</i><i style="width:3px">t</i><i style="width:6px">a</i><i style="width:6px">n</i><i style="width:6px">d</i><i style="width:2px">i</i><i style="width:6px">n</i><i style="width:6px">g</i></div>
<div class="n" style="left:126px;top:647px"><i style="width:6px">3</i><i style="width:3px">.</i><i style="width:6px">3</i><i style="width:6px">7</i></div>
<div class="n" style="left:175px;top:647px"><i style="width:6px">3</i><i style="width:3px">.</i><i style="width:6px">5</i><i style="width:6px">5</i></div>
<div class="n" style="left:224px;top:647px"><i style="width:6px">2</i><i style="width:3px">.</i><i style="width:6px">4</i><i style="width:6px">7</i></div>
<div class="n" style="left:273px;top:647px"><i style="width:6px">1</i><i style="width:3px">.</i><i style="width:6px">7</i><i style="width:6px">7</i></div>
<div class="n" style="left:322px;top:647px"><i style="width:6px">2</i><i style="width:3px">.</i><i style="width:6px">2</i><i style="width:6px">0</i></div>
<div class="n" style="left:371px;top:647px"><i style="width:6px">3</i><i style="width:3px">.</i><i style="width:6px">0</i><i style="width:6px">1</i></div>
<div class="n" style="left:420px;top:647px"><i style="width:6px">2</i><i style="width:3px">.</i><i style="width:6px">9</i><i style="width:6px">8</i></div>
<div class="n" style="left:469px;top:647px"><i style="width:6px">3</i><i style="width:3px">.</i><i style="width:6px">5</i><i style="width:6px">1</i></div>
<div class="n" style="left:518px;top:647px"><i style="width:6px">3</i><i style="width:3px">.</i><i style="width:6px">5</i><i style="width:6px">2</i></div>
<div class="n" style="left:567px;top:647px"><i style="width:6px">3</i><i style="width:3px">.</i><i style="width:6px">7</i><i style="width:6px">1</i></div>
<div class="n" style="left:616px;top:647px"><i style="width:6px">4</i><i style="width:3px">.</i><i style="width:6px">4</i><i style="width:6px">0</i></div>
<div class="n" style="left:665px;top:647px"><i style="width:6px">4</i><i style="width:3px">.</i><i style="width:6px">8</i><i style="width:6px">5</i></div>
<div class="n" style="left:714px;top:647px"><i style="width:6px">5</i><i style="width:3px">.</i><i style="width:6px">2</i><i style="width:6px">7</i></div>
<div class="n" style="left:763px;top:647px"><i style="width:6px">5</i><i style="width:3px">.</i><i style="width:6px">1</i><i style="width:6px">2</i></div>
<div class="n" style="left:812px;top:647px"><i style="width:6px">5</i><i style="width:3px">.</i><i style="width:6px">0</i><i style="width:6px">9</i></div>
<div class="n" style="left:861px;top:647px"><i style="width:6px">3</i><i style="width:3px">.</i><i style="width:6px">9</i><i style="width:6px">6</i></div>
<div class="t l" style="left:8px;top:667px"><i style="width:8px">D</i><i style="width:6px">a</i><i style="width:6px">y</i><i style="width:6px">s</i><i style="width:3px">&nbsp;</i><i style="width:7px">A</i><i style="width:6px">c</i><i style="width:6px">c</i><i style="width:6px">o</i><i style="width:6px">u</i><i style="width:6px">n</i><i style="width:3px">t</i><i style="width:6px">s</i><i style="width:3px">&nbsp;</i><i style="width:7px">P</i><i style="width:6px">a</i><i style="width:6px">y</i><i style="width:6px">a</i><i style="width:6px">b</i><i style="width:2px">l</i><i style="width:6px">e</i></div>
<div class="n" style="left:126px;top:667px"><i style="width:6px">3</i><i style="width:6px">7</i><i style="width:3px">.</i><i style="width:6px">3</i><i style="width:6px">7</i></div>
<div class="n" style="left:175px;top:667px"><i style="width:6px">3</i><i style="width:6px">5</i><i style="width:3px">.</i><i style="width:6px">8</i><i style="width:6px">3</i></div>
<div class="n" style="left:224px;top:667px"><i style="width:6px">3</i><i style="width:6px">4</i><i style="width:3px">.</i><i style="width:6px">4</i><i style="width:6px">5</i></div>
<div class="n" style="left:273px;top:667px"><i style="width:6px">3</i><i style="width:6px">5</i><i style="width:3px">.</i><i style="width:6px">6</i><i style="width:6px">7</i></div>
<div class="n" style="left:322px;top:667px"><i style="width:6px">3</i><i style="width:6px">7</i><i style="width:3px">.</i><i style="width:6px">0</i><i style="width:6px">1</i></div>
<div class="n" style="left:371px;top:667px"><i style="width:6px">3</i><i style="width:6px">8</i><i style="width:3px">.</i><i style="width:6px">5</i><i style="width:6px">5</i></div>
<div class="n" style="left:420px;top:667px"><i style="width:6px">3</i><i style="width:6px">9</i><i style="width:3px">.</i><i style="width:6px">3</i><i style="width:6px">8</i></div>
<div class="n" style="left:469px;top:667px"><i style="width:6px">3</i><i style="width:6px">8</i><i style="width:3px">.</i><i style="width:6px">6</i><i style="width:6px">8</i></div>
<div class="n" style="left:518px;top:667px"><i style="width:6px">3</i><i style="width:6px">4</i><i style="width:3px">.</i><i style="width:6px">6</i><i style="width:6px">3</i></div>
<div class="n" style="left:567px;top:667px"><i style="width:6px">3</i><i style="width:6px">6</i><i style="width:3px">.</i><i style="width:6px">5</i><i style="width:6px">1</i></div>
<div class="n" style="left:616px;top:667px"><i style="width:6px">3</i><i style="width:6px">8</i><i style="width:3px">.</i><i style="width:6px">8</i><i style="width:6px">9</i></div>
<div class="n" style="left:665px;top:667px"><i style="width:6px">3</i><i style="width:6px">9</i><i style="width:3px">.</i><i style="width:6px">8</i><i style="width:6px">7</i></div>
<div class="n" style="left:714px;top:667px"><i style="width:6px">3</i><i style="width:6px">9</i><i style="width:3px">.</i><i style="width:6px">4</i><i style="width:6px">5</i></div>
<div class="n" style="left:763px;top:667px"><i style="width:6px">3</i><i style="width:6px">8</i><i style="width:3px">.</i><i style="width:6px">1</i><i style="width:6px">4</i></div>
<div class="n" style="left:812px;top:667px"><i style="width:6px">3</i><i style="width:6px">8</i><i style="width:3px">.</i><i style="width:6px">4</i><i style="width:6px">0</i></div>
<div class="n" style="left:861px;top:667px"><i style="width:6px">3</i><i style="width:6px">7</i><i style="width:3px">.</i><i style="width:6px">2</i><i style="width:6px">4</i></div>
<div class="t l" style="left:8px;top:687px"><i style="width:8px">D</i><i style="width:6px">a</i><i style="width:6px">y</i><i style="width:6px">s</i><i style="width:3px">&nbsp;</i><i style="width:3px">I</i><i style="width:6px">n</i><i style="width:6px">v</i><i style="width:6px">e</i><i style="width:6px">n</i><i style="width:3px">t</i><i style="width:6px">o</i><i style="width:4px">r</i><i style="width:6px">y</i></div>
<div class="n" style="left:126px;top:687px"><i style="width:6px">5</i><i style="width:6px">1</i><i style="width:3px">.</i><i style="width:6px">0</i><i style="width:6px">6</i></div>
<div class="n" style="left:175px;top:687px"><i style="width:6px">5</i><i style="width:6px">0</i><i style="width:3px">.</i><i style="width:6px">5</i><i style="width:6px">4</i></div>
<div class="n" style="left:224px;top:687px"><i style="width:6px">4</i><i style="width:6px">8</i><i style="width:3px">.</i><i style="width:6px">1</i><i style="width:6px">2</i></div>
<div class="n" style="left:273px;top:687px"><i style="width:6px">4</i><i style="width:6px">6</i><i style="width:3px">.</i><i style="width:6px">8</i><i style="width:6px">4</i></div>
<div class="n" style="left:322px;top:687px"><i style="width:6px">4</i><i style="width:6px">7</i><i style="width:3px">.</i><i style="width:6px">4</i><i style="width:6px">5</i></div>
<div class="n" style="left:371px;top:687px"><i style="width:6px">4</i><i style="width:6px">7</i><i style="width:3px">.</i><i style="width:6px">3</i><i style="width:6px">6</i></div>
<div class="n" style="left:420px;top:687px"><i style="width:6px">4</i><i style="width:6px">5</i><i style="width:3px">.</i><i style="width:6px">3</i><i style="width:6px">5</i></div>
<div class="n" style="left:469px;top:687px"><i style="width:6px">4</i><i style="width:6px">3</i><i style="width:3px">.</i><i style="width:6px">8</i><i style="width:6px">8</i></div>
<div class="n" style="left:518px;top:687px"><i style="width:6px">4</i><i style="width:6px">1</i><i style="width:3px">.</i><i style="width:6px">8</i><i style="width:6px">2</i></div>
<div class="n" style="left:567px;top:687px"><i style="width:6px">4</i><i style="width:6px">0</i><i style="width:3px">.</i><i style="width:6px">3</i><i style="width:6px">0</i></div>
<div class="n" style="left:616px;top:687px"><i style="width:6px">4</i><i style="width:6px">0</i><i style="width:3px">.</i><i style="width:6px">0</i><i style="width:6px">0</i></div>
<div class="n" style="left:665px;top:687px"><i style="width:6px">4</i><i style="width:6px">1</i><i style="width:3px">.</i><i style="width:6px">9</i><i style="width:6px">5</i></div>
<div class="n" style="left:714px;top:687px"><i style="width:6px">4</i><i style="width:6px">3</i><i style="width:3px">.</i><i style="width:6px">7</i><i style="width:6px">8</i></div>
<div class="n" style="left:763px;top:687px"><i style="width:6px">4</i><i style="width:6px">5</i><i style="width:3px">.</i><i style="width:6px">1</i><i style="width:6px">9</i></div>
<div class="n" style="left:812px;top:687px"><i style="width:6px">4</i><i style="width:6px">4</i><i style="width:3px">.</i><i style="width:6px">9</i><i style="width:6px">9</i></div>
<div class="n" style="left:861px;top:687px"><i style="width:6px">4</i><i style="width:6px">6</i><i style="width:3px">.</i><i style="width:6px">6</i><i style="width:6px">9</i></div>
<div class="t l" style="left:8px;top:707px"><i style="width:8px">C</i><i style="width:6px">a</i><i style="width:6px">s</i><i style="width:6px">h</i><i style="width:3px">&nbsp;</i><i style="width:8px">C</i><i style="width:6px">o</i><i style="width:6px">n</i><i style="width:6px">v</i><i style="width:6px">e</i><i style="width:4px">r</i><i style="width:6px">s</i><i style="width:2px">i</i><i style="width:6px">o</i><i style="width:6px">n</i><i style="width:3px">&nbsp;</i><i style="width:8px">C</i><i style="width:6px">y</i><i style="width:6px">c</i><i style="width:2px">l</i><i style="width:6px">e</i></div>
<div class="n" style="left:126px;top:707px"><i style="width:6px">1</i><i style="width:6px">7</i><i style="width:3px">.</i><i style="width:6px">0</i><i style="width:6px">6</i></div>
<div class="n" style="left:175px;top:707px"><i style="width:6px">1</i><i style="width:6px">8</i><i style="width:3px">.</i><i style="width:6px">2</i><i style="width:6px">6</i></div>
<div class="n" style="left:224px;top:707px"><i style="width:6px">1</i><i style="width:6px">6</i><i style="width:3px">.</i><i style="width:6px">1</i><i style="width:6px">4</i></div>
<div class="n" style="left:273px;top:707px"><i style="width:6px">1</i><i style="width:6px">2</i><i style="width:3px">.</i><i style="width:6px">9</i><i style="width:6px">4</i></div>
<div class="n" style="left:322px;top:707px"><i style="width:6px">1</i><i style="width:6px">2</i><i style="width:3px">.</i><i style="width:6px">6</i><i style="width:6px">4</i></div>
<div class="n" style="left:371px;top:707px"><i style="width:6px">1</i><i style="width:6px">1</i><i style="width:3px">.</i><i style="width:6px">8</i><i style="width:6px">2</i></div>
<div class="n" style="left:420px;top:707px"><i style="width:6px">8</i><i style="width:3px">.</i><i style="width:6px">9</i><i style="width:6px">5</i></div>
<div class="n" style="left:469px;top:707px"><i style="width:6px">8</i><i style="width:3px">.</i><i style="width:6px">7</i><i style="width:6px">1</i></div>
<div class="n" style="left:518px;top:707px"><i style="width:6px">1</i><i style="width:6px">0</i><i style="width:3px">.</i><i style="width:6px">7</i><i style="width:6px">1</i></div>
<div class="n" style="left:567px;top:707px"><i style="width:6px">7</i><i style="width:3px">.</i><i style="width:6px">5</i><i style="width:6px">0</i></div>
<div class="n" style="left:616px;top:707px"><i style="width:6px">5</i><i style="width:3px">.</i><i style="width:6px">5</i><i style="width:6px">1</i></div>
<div class="n" style="left:665px;top:707px"><i style="width:6px">6</i><i style="width:3px">.</i><i style="width:6px">9</i><i style="width:6px">3</i></div>
<div class="n" style="left:714px;top:707px"><i style="width:6px">9</i><i style="width:3px">.</i><i style="width:6px">6</i><i style="width:6px">0</i></div>
<div class="n" style="left:763px;top:707px"><i style="width:6px">1</i><i style="width:6px">2</i><i style="width:3px">.</i><i style="width:6px">1</i><i style="width:6px">7</i></div>
<div class="n" style="left:812px;top:707px"><i style="width:6px">1</i><i style="width:6px">1</i><i style="width:3px">.</i><i style="width:6px">6</i><i style="width:6px">8</i></div>
<div class="n" style="left:861px;top:707px"><i style="width:6px">1</i><i style="width:6px">3</i><i style="width:3px">.</i><i style="width:6px">4</i><i style="width:6px">1</i></div>
<div class="t l" style="left:8px;top:727px"><i style="width:3px">I</i><i style="width:6px">n</i><i style="width:6px">v</i><i style="width:6px">e</i><i style="width:6px">n</i><i style="width:3px">t</i><i style="width:6px">o</i><i style="width:4px">r</i><i style="width:6px">y</i><i style="width:3px">&nbsp;</i><i style="width:7px">T</i><i style="width:6px">u</i><i style="width:4px">r</i><i style="width:6px">n</i><i style="width:6px">o</i><i style="width:6px">v</i><i style="width:6px">e</i><i style="width:4px">r</i></div>
<div class="n" style="left:126px;top:727px"><i style="width:6px">7</i><i style="width:3px">.</i><i style="width:6px">1</i><i style="width:6px">5</i></div>
<div class="n" style="left:175px;top:727px"><i style="width:6px">7</i><i style="width:3px">.</i><i style="width:6px">2</i><i style="width:6px">2</i></div>
<div class="n" style="left:224px;top:727px"><i style="width:6px">7</i><i style="width:3px">.</i><i style="width:6px">5</i><i style="width:6px">8</i></div>
<div class="n" style="left:273px;top:727px"><i style="width:6px">7</i><i style="width:3px">.</i><i style="width:6px">7</i><i style="width:6px">9</i></div>
<div class="n" style="left:322px;top:727px"><i style="width:6px">7</i><i style="width:3px">.</i><i style="width:6px">6</i><i style="width:6px">9</i></div>
<div class="n" style="left:371px;top:727px"><i style="width:6px">7</i><i style="width:3px">.</i><i style="width:6px">7</i><i style="width:6px">1</i></div>
<div class="n" style="left:420px;top:727px"><i style="width:6px">8</i><i style="width:3px">.</i><i style="width:6px">0</i><i style="width:6px">5</i></div>
<div class="n" style="left:469px;top:727px"><i style="width:6px">8</i><i style="width:3px">.</i><i style="width:6px">3</i><i style="width:6px">2</i></div>
<div class="n" style="left:518px;top:727px"><i style="width:6px">8</i><i style="width:3px">.</i><i style="width:6px">7</i><i style="width:6px">3</i></div>
<div class="n" style="left:567px;top:727px"><i style="width:6px">9</i><i style="width:3px">.</i><i style="width:6px">0</i><i style="width:6px">6</i></div>
<div class="n" style="left:616px;top:727px"><i style="width:6px">9</i><i style="width:3px">.</i><i style="width:6px">1</i><i style="width:6px">2</i></div>
<div class="n" style="left:665px;top:727px"><i style="width:6px">8</i><i style="width:3px">.</i><i style="width:6px">7</i><i style="width:6px">0</i></div>
<div class="n" style="left:714px;top:727px"><i style="width:6px">8</i><i style="width:3px">.</i><i style="width:6px">3</i><i style="width:6px">4</i></div>
<div class="n" style="left:763px;top:727px"><i style="width:6px">8</i><i style="width:3px">.</i><i style="width:6px">0</i><i style="width:6px">8</i></div>
<div class="n" style="left:812px;top:727px"><i style="width:6px">8</i><i style="width:3px">.</i><i style="width:6px">1</i><i style="width:6px">1</i></div>
<div class="n" style="left:861px;top:727px"><i style="width:6px">7</i><i style="width:3px">.</i><i style="width:6px">8</i><i style="width:6px">2</i></div>
<div class="t l" style="left:8px;top:747px"><i style="width:8px">C</i><i style="width:9px">O</i><i style="width:9px">G</i><i style="width:7px">S</i><i style="width:3px">&nbsp;</i><i style="width:3px">t</i><i style="width:6px">o</i><i style="width:3px">&nbsp;</i><i style="width:8px">R</i><i style="width:6px">e</i><i style="width:6px">v</i><i style="width:6px">e</i><i style="width:6px">n</i><i style="width:6px">u</i><i style="width:6px">e</i></div>
<div class="n" style="left:126px;top:747px"><i style="width:6px">0</i><i style="width:3px">.</i><i style="width:6px">7</i><i style="width:6px">7</i></div>
<div class="n" style="left:175px;top:747px"><i style="width:6px">0</i><i style="width:3px">.</i><i style="width:6px">7</i><i style="width:6px">7</i></div>
<div class="n" style="left:224px;top:747px"><i style="width:6px">0</i><i style="width:3px">.</i><i style="width:6px">7</i><i style="width:6px">7</i></div>
<div class="n" style="left:273px;top:747px"><i style="width:6px">0</i><i style="width:3px">.</i><i style="width:6px">7</i><i style="width:6px">7</i></div>
<div class="n" style="left:322px;top:747px"><i style="width:6px">0</i><i style="width:3px">.</i><i style="width:6px">7</i><i style="width:6px">6</i></div>
<div class="n" style="left:371px;top:747px"><i style="width:6px">0</i><i style="width:3px">.</i><i style="width:6px">7</i><i style="width:6px">6</i></div>
<div class="n" style="left:420px;top:747px"><i style="width:6px">0</i><i style="width:3px">.</i><i style="width:6px">7</i><i style="width:6px">6</i></div>
<div class="n" style="left:469px;top:747px"><i style="width:6px">0</i><i style="width:3px">.</i><i style="width:6px">7</i><i style="width:6px">6</i></div>
<div class="n" style="left:518px;top:747px"><i style="width:6px">0</i><i style="width:3px">.</i><i style="width:6px">7</i><i style="width:6px">5</i></div>
<div class="n" style="left:567px;top:747px"><i style="width:6px">0</i><i style="width:3px">.</i><i style="width:6px">7</i><i style="width:6px">5</i></div>
<div class="n" style="left:616px;top:747px"><i style="width:6px">0</i><i style="width:3px">.</i><i style="width:6px">7</i><i style="width:6px">5</i></div>
<div class="n" style="left:665px;top:747px"><i style="width:6px">0</i><i style="width:3px">.</i><i style="width:6px">7</i><i style="width:6px">5</i></div>
<div class="n" style="left:714px;top:747px"><i style="width:6px">0</i><i style="width:3px">.</i><i style="width:6px">7</i><i style="width:6px">5</i></div>
<div class="n" style="left:763px;top:747px"><i style="width:6px">0</i><i style="width:3px">.</i><i style="width:6px">7</i><i style="width:6px">5</i></div>
<div class="n" style="left:812px;top:747px"><i style="width:6px">0</i><i style="width:3px">.</i><i style="width:6px">7</i><i style="width:6px">5</i></div>
<div class="n" style="left:861px;top:747px"><i style="width:6px">0</i><i style="width:3px">.</i><i style="width:6px">7</i><i style="width:6px">5</i></div>
<div class="t l" style="left:8px;top:767px"><i style="width:3px">I</i><i style="width:6px">n</i><i style="width:6px">v</i><i style="width:6px">e</i><i style="width:6px">n</i><i style="width:3px">t</i><i style="width:6px">o</i><i style="width:4px">r</i><i style="width:6px">y</i><i style="width:3px">&nbsp;</i><i style="width:3px">t</i><i style="width:6px">o</i><i style="width:3px">&nbsp;</i><i style="width:8px">R</i><i style="width:6px">e</i><i style="width:6px">v</i><i style="width:6px">e</i><i style="width:6px">n</i><i style="width:6px">u</i><i style="width:6px">e</i></div>
<div class="n" style="left:126px;top:767px"><i style="width:6px">0</i><i style="width:3px">.</i><i style="width:6px">1</i><i style="width:6px">1</i></div>
<div class="n" style="left:175px;top:767px"><i style="width:6px">0</i><i style="width:3px">.</i><i style="width:6px">1</i><i style="width:6px">1</i></div>
<div class="n" style="left:224px;top:767px"><i style="width:6px">0</i><i style="width:3px">.</i><i style="width:6px">1</i><i style="width:6px">0</i></div>
<div class="n" style="left:273px;top:767px"><i style="width:6px">0</i><i style="width:3px">.</i><i style="width:6px">1</i><i style="width:6px">0</i></div>
<div class="n" style="left:322px;top:767px"><i style="width:6px">0</i><i style="width:3px">.</i><i style="width:6px">1</i><i style="width:6px">0</i></div>
<div class="n" style="left:371px;top:767px"><i style="width:6px">0</i><i style="width:3px">.</i><i style="width:6px">1</i><i style="width:6px">0</i></div>
<div class="n" style="left:420px;top:767px"><i style="width:6px">0</i><i style="width:3px">.</i><i style="width:6px">0</i><i style="width:6px">9</i></div>
<div class="n" style="left:469px;top:767px"><i style="width:6px">0</i><i style="width:3px">.</i><i style="width:6px">0</i><i style="width:6px">9</i></div>
<div class="n" style="left:518px;top:767px"><i style="width:6px">0</i><i style="width:3px">.</i><i style="width:6px">0</i><i style="width:6px">9</i></div>
<div class="n" style="left:567px;top:767px"><i style="width:6px">0</i><i style="width:3px">.</i><i style="width:6px">0</i><i style="width:6px">8</i></div>
<div class="n" style="left:616px;top:767px"><i style="width:6px">0</i><i style="width:3px">.</i><i style="width:6px">0</i><i style="width:6px">8</i></div>
<div class="n" style="left:665px;top:767px"><i style="width:6px">0</i><i style="width:3px">.</i><i style="width:6px">0</i><i style="width:6px">9</i></div>
<div class="n" style="left:714px;top:767px"><i style="width:6px">0</i><i style="width:3px">.</i><i style="width:6px">0</i><i style="width:6px">9</i></div>
<div class="n" style="left:763px;top:767px"><i style="width:6px">0</i><i style="width:3px">.</i><i style="width:6px">0</i><i style="width:6px">9</i></div>
<div class="n" style="left:812px;top:767px"><i style="width:6px">0</i><i style="width:3px">.</i><i style="width:6px">0</i><i style="width:6px">9</i></div>
<div class="n" style="left:861px;top:767px"><i style="width:6px">0</i><i style="width:3px">.</i><i style="width:6px">1</i><i style="width:6px">0</i></div>
</body></html>
